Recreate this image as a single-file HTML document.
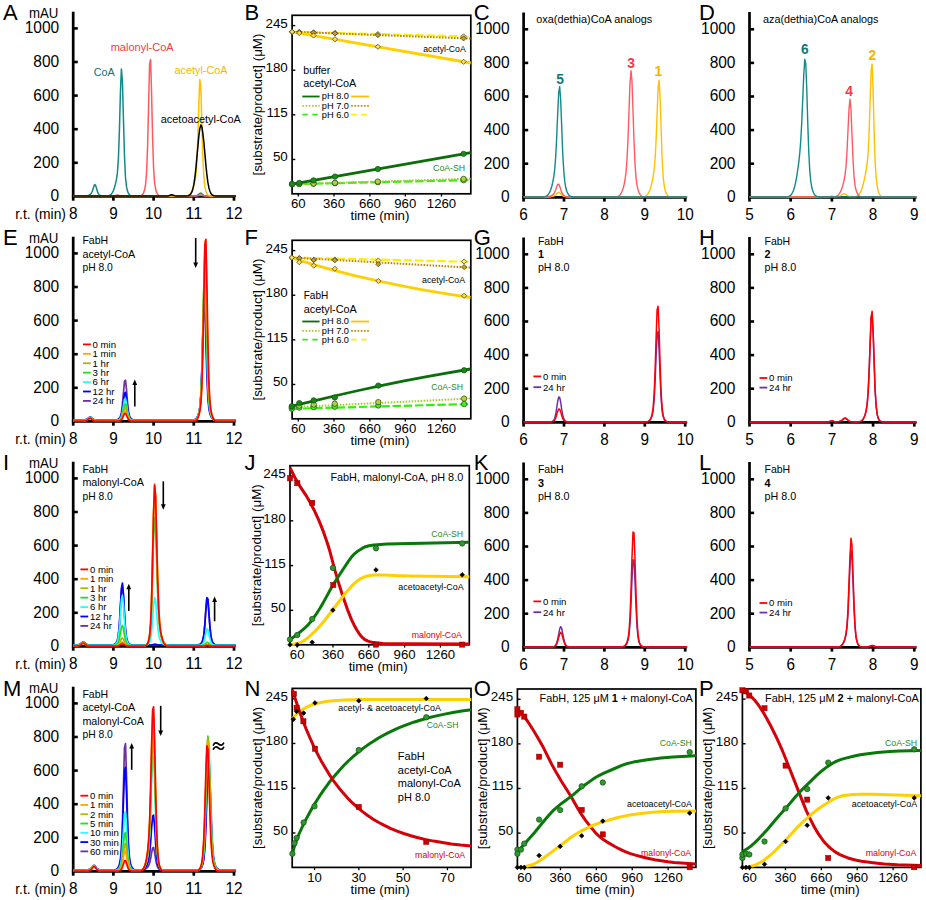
<!DOCTYPE html>
<html><head><meta charset="utf-8"><style>
html,body{margin:0;padding:0;background:#fff;overflow:hidden;width:926px;height:900px;}
svg{display:block;font-family:"Liberation Sans", sans-serif;}
</style></head><body>
<svg width="926" height="900" viewBox="0 0 926 900">
<rect width="926" height="900" fill="#fff"/>
<text x="3.00" y="19.60" font-size="22">A</text>
<line x1="73.20" y1="11.70" x2="73.20" y2="200.70" stroke="#000" stroke-width="2.7"/>
<line x1="73.20" y1="162.80" x2="77.80" y2="162.80" stroke="#000" stroke-width="2.6"/>
<line x1="73.20" y1="129.20" x2="77.80" y2="129.20" stroke="#000" stroke-width="2.6"/>
<line x1="73.20" y1="95.60" x2="77.80" y2="95.60" stroke="#000" stroke-width="2.6"/>
<line x1="73.20" y1="62.00" x2="77.80" y2="62.00" stroke="#000" stroke-width="2.6"/>
<line x1="73.20" y1="28.40" x2="77.80" y2="28.40" stroke="#000" stroke-width="2.6"/>
<line x1="71.90" y1="196.40" x2="235.20" y2="196.40" stroke="#000" stroke-width="2.8"/>
<line x1="113.40" y1="196.40" x2="113.40" y2="200.70" stroke="#000" stroke-width="2.7"/>
<line x1="153.60" y1="196.40" x2="153.60" y2="200.70" stroke="#000" stroke-width="2.7"/>
<line x1="193.80" y1="196.40" x2="193.80" y2="200.70" stroke="#000" stroke-width="2.7"/>
<line x1="234.00" y1="196.40" x2="234.00" y2="200.70" stroke="#000" stroke-width="2.7"/>
<text x="59.20" y="201.30" font-size="16.3" text-anchor="end" textLength="8.62" lengthAdjust="spacingAndGlyphs">0</text>
<text x="59.20" y="167.70" font-size="16.3" text-anchor="end" textLength="25.85" lengthAdjust="spacingAndGlyphs">200</text>
<text x="59.20" y="134.10" font-size="16.3" text-anchor="end" textLength="25.85" lengthAdjust="spacingAndGlyphs">400</text>
<text x="59.20" y="100.50" font-size="16.3" text-anchor="end" textLength="25.85" lengthAdjust="spacingAndGlyphs">600</text>
<text x="59.20" y="66.90" font-size="16.3" text-anchor="end" textLength="25.85" lengthAdjust="spacingAndGlyphs">800</text>
<text x="59.20" y="33.30" font-size="16.3" text-anchor="end" textLength="34.47" lengthAdjust="spacingAndGlyphs">1000</text>
<text x="73.20" y="219.10" font-size="16.0" text-anchor="middle" textLength="8.51" lengthAdjust="spacingAndGlyphs">8</text>
<text x="113.40" y="219.10" font-size="16.0" text-anchor="middle" textLength="8.51" lengthAdjust="spacingAndGlyphs">9</text>
<text x="153.60" y="219.10" font-size="16.0" text-anchor="middle" textLength="17.01" lengthAdjust="spacingAndGlyphs">10</text>
<text x="193.80" y="219.10" font-size="16.0" text-anchor="middle" textLength="17.01" lengthAdjust="spacingAndGlyphs">11</text>
<text x="234.00" y="219.10" font-size="16.0" text-anchor="middle" textLength="17.01" lengthAdjust="spacingAndGlyphs">12</text>
<text x="15.20" y="219.00" font-size="14.2" textLength="50.8" lengthAdjust="spacingAndGlyphs">r.t. (min)</text>
<text x="29.00" y="17.70" font-size="14" textLength="29.4" lengthAdjust="spacingAndGlyphs">mAU</text>
<polyline points="73.2,196.1 85.3,196.0 87.3,195.7 89.3,195.0 90.3,194.4 91.3,193.3 92.3,191.2 94.3,185.0 95.3,184.7 96.3,187.5 97.3,191.1 98.3,193.6 99.3,194.8 100.3,195.4 101.3,195.7 103.4,196.0 105.4,196.1 107.4,196.0 109.4,195.5 110.4,194.9 111.4,194.0 112.4,192.6 113.4,190.5 114.4,187.8 115.4,184.2 116.4,179.7 117.4,172.8 118.4,158.6 119.4,130.6 120.4,92.8 121.4,68.9 122.4,81.0 124.5,156.5 125.5,177.4 126.5,186.7 127.5,191.1 128.5,193.5 129.5,194.8 130.5,195.6 131.5,195.9 133.5,196.1 190.8,196.1 194.8,195.9 196.8,195.5 197.8,195.0 199.8,193.4 200.8,193.1 201.8,193.7 202.8,194.7 203.9,195.4 204.9,195.8 206.9,196.0 210.9,196.1 236.0,196.1" fill="none" stroke="#128a8a" stroke-width="1.5" stroke-linejoin="round"/>
<polyline points="73.2,196.1 110.4,196.1 113.4,195.9 117.4,195.1 118.4,195.3 120.4,195.9 122.4,196.1 138.5,196.1 140.5,195.8 141.5,195.4 142.5,194.5 143.6,192.8 144.6,189.8 145.6,184.3 146.6,172.3 147.6,145.9 149.6,63.8 150.6,59.4 151.6,94.0 152.6,138.5 153.6,168.4 154.6,182.7 155.6,189.0 156.6,192.3 157.6,194.2 158.6,195.3 159.6,195.8 160.6,196.0 162.6,196.1 193.8,196.1 197.8,195.8 200.8,195.1 201.8,195.2 204.9,196.0 206.9,196.1 236.0,196.1" fill="none" stroke="#ff5a5f" stroke-width="1.5" stroke-linejoin="round"/>
<polyline points="73.2,196.1 182.7,196.1 184.8,196.1 186.8,195.8 187.8,195.6 188.8,195.1 189.8,194.3 190.8,193.0 191.8,191.2 192.8,188.7 193.8,185.6 194.8,181.5 195.8,175.5 196.8,163.6 197.8,139.3 198.8,104.6 199.8,79.5 200.8,86.4 202.8,156.2 203.9,177.2 204.9,186.7 205.9,191.1 206.9,193.5 207.9,194.8 208.9,195.5 209.9,195.9 212.9,196.1 236.0,196.1" fill="none" stroke="#ffc000" stroke-width="1.5" stroke-linejoin="round"/>
<polyline points="73.2,196.1 162.6,196.1 167.7,195.9 168.7,195.7 170.7,195.0 171.7,194.8 172.7,195.0 174.7,195.8 175.7,195.9 178.7,196.1 182.7,196.1 185.8,196.0 187.8,195.8 188.8,195.5 189.8,194.9 190.8,193.9 191.8,192.2 192.8,189.3 193.8,184.7 194.8,178.1 195.8,169.2 198.8,136.4 199.8,128.6 200.8,125.0 201.8,126.6 202.8,132.9 203.9,142.6 205.9,165.1 206.9,174.8 207.9,182.4 208.9,187.7 209.9,191.2 210.9,193.4 211.9,194.6 212.9,195.3 213.9,195.7 215.9,196.0 219.9,196.1 236.0,196.1" fill="none" stroke="#000" stroke-width="1.5" stroke-linejoin="round"/>
<text x="93.80" y="75.50" font-size="11.2" fill="#0f7272" textLength="21" lengthAdjust="spacingAndGlyphs">CoA</text>
<text x="110.70" y="51.30" font-size="11.2" fill="#f23a48" textLength="63" lengthAdjust="spacingAndGlyphs">malonyl-CoA</text>
<text x="174.60" y="73.70" font-size="11.2" fill="#f5b800" textLength="53" lengthAdjust="spacingAndGlyphs">acetyl-CoA</text>
<text x="160.80" y="123.00" font-size="11.2" textLength="80" lengthAdjust="spacingAndGlyphs">acetoacetyl-CoA</text>
<text x="244.60" y="19.60" font-size="22">B</text>
<rect x="292.10" y="15.30" width="178.70" height="178.50" fill="none" stroke="#000" stroke-width="1.7"/>
<line x1="292.10" y1="25.60" x2="295.30" y2="25.60" stroke="#000" stroke-width="1.4"/>
<text x="287.80" y="27.60" font-size="13.4" text-anchor="end">245</text>
<line x1="292.10" y1="70.22" x2="295.30" y2="70.22" stroke="#000" stroke-width="1.4"/>
<text x="287.80" y="72.22" font-size="13.4" text-anchor="end">180</text>
<line x1="292.10" y1="114.85" x2="295.30" y2="114.85" stroke="#000" stroke-width="1.4"/>
<text x="287.80" y="116.85" font-size="13.4" text-anchor="end">115</text>
<line x1="292.10" y1="159.47" x2="295.30" y2="159.47" stroke="#000" stroke-width="1.4"/>
<text x="287.80" y="161.47" font-size="13.4" text-anchor="end">50</text>
<text x="298.30" y="208.00" font-size="13.2" text-anchor="middle">60</text>
<line x1="298.30" y1="193.80" x2="298.30" y2="196.60" stroke="#000" stroke-width="1.3"/>
<text x="334.00" y="208.00" font-size="13.2" text-anchor="middle">360</text>
<line x1="334.00" y1="193.80" x2="334.00" y2="196.60" stroke="#000" stroke-width="1.3"/>
<text x="369.90" y="208.00" font-size="13.2" text-anchor="middle">660</text>
<line x1="369.90" y1="193.80" x2="369.90" y2="196.60" stroke="#000" stroke-width="1.3"/>
<text x="405.30" y="208.00" font-size="13.2" text-anchor="middle">960</text>
<line x1="405.30" y1="193.80" x2="405.30" y2="196.60" stroke="#000" stroke-width="1.3"/>
<text x="441.50" y="208.00" font-size="13.2" text-anchor="middle">1260</text>
<line x1="441.50" y1="193.80" x2="441.50" y2="196.60" stroke="#000" stroke-width="1.3"/>
<text x="379.95" y="220.00" font-size="13.3" text-anchor="middle" textLength="59" lengthAdjust="spacingAndGlyphs">time (min)</text>
<text x="0" y="0" font-size="13.4" text-anchor="middle" textLength="142" lengthAdjust="spacingAndGlyphs" transform="translate(261.60,104.55) rotate(-90)">[substrate/product] (&#956;M)</text>
<polyline points="292.1,31.8 470.8,36.6" fill="none" stroke="#ffee00" stroke-width="2.2" stroke-linejoin="round" stroke-dasharray="8.4,2.8"/>
<polyline points="292.1,31.8 470.8,38.6" fill="none" stroke="#b8860b" stroke-width="2.0" stroke-linejoin="round" stroke-dasharray="1.6,1.4"/>
<polyline points="292.1,31.8 470.8,63.0" fill="none" stroke="#ffd000" stroke-width="2.8" stroke-linejoin="round"/>
<polyline points="292.1,184.2 470.8,180.1" fill="none" stroke="#33ee11" stroke-width="2.2" stroke-linejoin="round" stroke-dasharray="8.4,2.8"/>
<polyline points="292.1,184.2 470.8,178.7" fill="none" stroke="#a8c832" stroke-width="2.0" stroke-linejoin="round" stroke-dasharray="1.6,1.4"/>
<polyline points="292.1,184.2 470.8,152.6" fill="none" stroke="#0a6e0a" stroke-width="2.8" stroke-linejoin="round"/>
<path d="M292.10,29.18L294.70,31.78L292.10,34.38L289.50,31.78Z" fill="#ffee55" stroke="#333" stroke-width="0.7"/>
<path d="M292.10,29.18L294.70,31.78L292.10,34.38L289.50,31.78Z" fill="#c8a020" stroke="#333" stroke-width="0.7"/>
<path d="M292.10,29.18L294.70,31.78L292.10,34.38L289.50,31.78Z" fill="#ffe040" stroke="#333" stroke-width="0.7"/>
<path d="M299.25,29.37L301.85,31.97L299.25,34.57L296.65,31.97Z" fill="#ffee55" stroke="#333" stroke-width="0.7"/>
<path d="M299.25,29.45L301.85,32.05L299.25,34.65L296.65,32.05Z" fill="#c8a020" stroke="#333" stroke-width="0.7"/>
<path d="M299.25,30.43L301.85,33.03L299.25,35.63L296.65,33.03Z" fill="#ffe040" stroke="#333" stroke-width="0.7"/>
<path d="M313.54,29.75L316.14,32.35L313.54,34.95L310.94,32.35Z" fill="#ffee55" stroke="#333" stroke-width="0.7"/>
<path d="M313.54,30.00L316.14,32.60L313.54,35.20L310.94,32.60Z" fill="#c8a020" stroke="#333" stroke-width="0.7"/>
<path d="M313.54,32.93L316.14,35.53L313.54,38.13L310.94,35.53Z" fill="#ffe040" stroke="#333" stroke-width="0.7"/>
<path d="M334.98,30.33L337.58,32.93L334.98,35.53L332.38,32.93Z" fill="#ffee55" stroke="#333" stroke-width="0.7"/>
<path d="M334.98,30.82L337.58,33.42L334.98,36.02L332.38,33.42Z" fill="#c8a020" stroke="#333" stroke-width="0.7"/>
<path d="M334.98,36.67L337.58,39.27L334.98,41.87L332.38,39.27Z" fill="#ffe040" stroke="#333" stroke-width="0.7"/>
<path d="M377.85,31.48L380.45,34.08L377.85,36.68L375.25,34.08Z" fill="#ffee55" stroke="#333" stroke-width="0.7"/>
<path d="M377.85,32.47L380.45,35.07L377.85,37.67L375.25,35.07Z" fill="#c8a020" stroke="#333" stroke-width="0.7"/>
<path d="M377.85,44.17L380.45,46.77L377.85,49.37L375.25,46.77Z" fill="#ffe040" stroke="#333" stroke-width="0.7"/>
<path d="M463.60,33.79L466.20,36.39L463.60,38.99L461.00,36.39Z" fill="#ffee55" stroke="#333" stroke-width="0.7"/>
<path d="M463.60,35.77L466.20,38.37L463.60,40.97L461.00,38.37Z" fill="#c8a020" stroke="#333" stroke-width="0.7"/>
<path d="M463.60,59.16L466.20,61.76L463.60,64.36L461.00,61.76Z" fill="#ffe040" stroke="#333" stroke-width="0.7"/>
<circle cx="292.10" cy="184.19" r="2.7" fill="#88ee44" stroke="#1a4a1a" stroke-width="0.7"/>
<circle cx="292.10" cy="184.19" r="2.7" fill="#b8cc44" stroke="#1a4a1a" stroke-width="0.7"/>
<circle cx="292.10" cy="184.19" r="2.7" fill="#1a8a1a" stroke="#1a4a1a" stroke-width="0.7"/>
<circle cx="299.25" cy="184.02" r="2.7" fill="#88ee44" stroke="#1a4a1a" stroke-width="0.7"/>
<circle cx="299.25" cy="183.97" r="2.7" fill="#b8cc44" stroke="#1a4a1a" stroke-width="0.7"/>
<circle cx="299.25" cy="182.93" r="2.7" fill="#1a8a1a" stroke="#1a4a1a" stroke-width="0.7"/>
<circle cx="313.54" cy="183.69" r="2.7" fill="#88ee44" stroke="#1a4a1a" stroke-width="0.7"/>
<circle cx="313.54" cy="183.53" r="2.7" fill="#b8cc44" stroke="#1a4a1a" stroke-width="0.7"/>
<circle cx="313.54" cy="180.40" r="2.7" fill="#1a8a1a" stroke="#1a4a1a" stroke-width="0.7"/>
<circle cx="334.98" cy="183.20" r="2.7" fill="#88ee44" stroke="#1a4a1a" stroke-width="0.7"/>
<circle cx="334.98" cy="182.87" r="2.7" fill="#b8cc44" stroke="#1a4a1a" stroke-width="0.7"/>
<circle cx="334.98" cy="176.61" r="2.7" fill="#1a8a1a" stroke="#1a4a1a" stroke-width="0.7"/>
<circle cx="377.85" cy="182.21" r="2.7" fill="#88ee44" stroke="#1a4a1a" stroke-width="0.7"/>
<circle cx="377.85" cy="181.55" r="2.7" fill="#b8cc44" stroke="#1a4a1a" stroke-width="0.7"/>
<circle cx="377.85" cy="169.03" r="2.7" fill="#1a8a1a" stroke="#1a4a1a" stroke-width="0.7"/>
<circle cx="463.60" cy="180.23" r="2.7" fill="#88ee44" stroke="#1a4a1a" stroke-width="0.7"/>
<circle cx="463.60" cy="178.92" r="2.7" fill="#b8cc44" stroke="#1a4a1a" stroke-width="0.7"/>
<circle cx="463.60" cy="153.87" r="2.7" fill="#1a8a1a" stroke="#1a4a1a" stroke-width="0.7"/>
<text x="423.30" y="52.00" font-size="8.8" textLength="42.4" lengthAdjust="spacingAndGlyphs">acetyl-CoA</text>
<text x="433.10" y="170.50" font-size="8.8" fill="#1f8a1f" textLength="32" lengthAdjust="spacingAndGlyphs">CoA-SH</text>
<text x="303.20" y="73.80" font-size="10.2" textLength="27.2" lengthAdjust="spacingAndGlyphs">buffer</text>
<text x="303.20" y="87.20" font-size="10.2" textLength="53.1" lengthAdjust="spacingAndGlyphs">acetyl-CoA</text>
<line x1="302.30" y1="96.50" x2="319.60" y2="96.50" stroke="#0a6e0a" stroke-width="1.8"/>
<text x="321.80" y="99.30" font-size="8.8" textLength="27.2" lengthAdjust="spacingAndGlyphs">pH 8.0</text>
<line x1="351.20" y1="96.50" x2="369.10" y2="96.50" stroke="#ffc000" stroke-width="1.8"/>
<line x1="302.30" y1="105.80" x2="319.60" y2="105.80" stroke="#a8c832" stroke-width="1.8" stroke-dasharray="1.6,1.6"/>
<text x="321.80" y="108.60" font-size="8.8" textLength="27.2" lengthAdjust="spacingAndGlyphs">pH 7.0</text>
<line x1="351.20" y1="105.80" x2="369.10" y2="105.80" stroke="#b8860b" stroke-width="1.8" stroke-dasharray="1.6,1.6"/>
<line x1="302.30" y1="114.70" x2="319.60" y2="114.70" stroke="#33ee11" stroke-width="1.8" stroke-dasharray="5.5,4.5"/>
<text x="321.80" y="117.50" font-size="8.8" textLength="27.2" lengthAdjust="spacingAndGlyphs">pH 6.0</text>
<line x1="351.20" y1="114.70" x2="369.10" y2="114.70" stroke="#ffee00" stroke-width="1.8" stroke-dasharray="5.5,4.5"/>
<text x="473.70" y="19.60" font-size="22">C</text>
<line x1="523.60" y1="12.50" x2="523.60" y2="201.60" stroke="#000" stroke-width="2.7"/>
<line x1="523.60" y1="163.70" x2="528.20" y2="163.70" stroke="#000" stroke-width="2.6"/>
<line x1="523.60" y1="130.10" x2="528.20" y2="130.10" stroke="#000" stroke-width="2.6"/>
<line x1="523.60" y1="96.50" x2="528.20" y2="96.50" stroke="#000" stroke-width="2.6"/>
<line x1="523.60" y1="62.90" x2="528.20" y2="62.90" stroke="#000" stroke-width="2.6"/>
<line x1="523.60" y1="29.30" x2="528.20" y2="29.30" stroke="#000" stroke-width="2.6"/>
<line x1="522.30" y1="197.30" x2="686.50" y2="197.30" stroke="#000" stroke-width="2.8"/>
<line x1="564.00" y1="197.30" x2="564.00" y2="201.60" stroke="#000" stroke-width="2.7"/>
<line x1="604.40" y1="197.30" x2="604.40" y2="201.60" stroke="#000" stroke-width="2.7"/>
<line x1="644.80" y1="197.30" x2="644.80" y2="201.60" stroke="#000" stroke-width="2.7"/>
<line x1="685.20" y1="197.30" x2="685.20" y2="201.60" stroke="#000" stroke-width="2.7"/>
<text x="509.60" y="202.20" font-size="16.3" text-anchor="end" textLength="8.62" lengthAdjust="spacingAndGlyphs">0</text>
<text x="509.60" y="168.60" font-size="16.3" text-anchor="end" textLength="25.85" lengthAdjust="spacingAndGlyphs">200</text>
<text x="509.60" y="135.00" font-size="16.3" text-anchor="end" textLength="25.85" lengthAdjust="spacingAndGlyphs">400</text>
<text x="509.60" y="101.40" font-size="16.3" text-anchor="end" textLength="25.85" lengthAdjust="spacingAndGlyphs">600</text>
<text x="509.60" y="67.80" font-size="16.3" text-anchor="end" textLength="25.85" lengthAdjust="spacingAndGlyphs">800</text>
<text x="509.60" y="34.20" font-size="16.3" text-anchor="end" textLength="34.47" lengthAdjust="spacingAndGlyphs">1000</text>
<text x="523.60" y="220.00" font-size="16.0" text-anchor="middle" textLength="8.51" lengthAdjust="spacingAndGlyphs">6</text>
<text x="564.00" y="220.00" font-size="16.0" text-anchor="middle" textLength="8.51" lengthAdjust="spacingAndGlyphs">7</text>
<text x="604.40" y="220.00" font-size="16.0" text-anchor="middle" textLength="8.51" lengthAdjust="spacingAndGlyphs">8</text>
<text x="644.80" y="220.00" font-size="16.0" text-anchor="middle" textLength="8.51" lengthAdjust="spacingAndGlyphs">9</text>
<text x="685.20" y="220.00" font-size="16.0" text-anchor="middle" textLength="17.01" lengthAdjust="spacingAndGlyphs">10</text>
<polyline points="523.6,197.0 544.7,197.0 547.7,197.0 550.7,196.7 552.7,196.4 553.7,196.1 554.7,195.6 555.7,194.8 557.7,192.8 558.7,192.3 559.7,192.8 561.7,195.0 562.7,195.8 563.8,196.3 565.8,196.8 568.8,197.0 641.0,197.0 643.1,196.9 645.1,196.4 646.1,195.8 647.1,195.0 648.1,193.7 649.1,191.9 650.1,189.3 651.1,186.0 652.1,181.9 653.1,176.8 654.1,170.0 655.1,158.9 656.1,139.9 658.1,87.9 659.1,80.2 660.1,97.9 662.1,158.1 663.1,175.8 664.1,185.0 665.1,189.9 666.1,192.9 667.1,194.7 668.1,195.9 669.2,196.5 670.2,196.8 672.2,197.0 687.2,197.0" fill="none" stroke="#ffc000" stroke-width="1.4" stroke-linejoin="round"/>
<polyline points="523.6,197.0 544.7,197.0 547.7,196.8 550.7,196.0 552.7,195.0 553.7,194.0 554.7,192.3 555.7,189.7 556.7,186.7 557.7,184.4 558.7,184.1 559.7,186.2 561.7,192.4 562.7,194.3 563.8,195.4 564.8,196.1 566.8,196.7 568.8,196.9 572.8,197.0 613.9,197.0 615.9,196.9 618.0,196.3 619.0,195.8 620.0,194.9 621.0,193.5 622.0,191.5 623.0,188.7 624.0,185.0 625.0,180.0 626.0,172.4 627.0,159.6 628.0,138.7 630.0,83.1 631.0,70.8 632.0,81.4 634.0,140.4 635.0,163.6 636.0,177.6 637.0,185.2 638.0,189.7 639.0,192.5 640.0,194.4 641.0,195.6 642.0,196.3 643.1,196.7 645.1,197.0 687.2,197.0" fill="none" stroke="#ff5a5f" stroke-width="1.4" stroke-linejoin="round"/>
<polyline points="523.6,197.0 540.7,197.0 542.7,197.0 544.7,196.7 545.7,196.4 546.7,195.9 547.7,195.1 548.7,193.9 549.7,192.1 550.7,189.7 551.7,186.5 552.7,182.5 553.7,177.2 554.7,169.4 555.7,156.8 556.7,137.3 557.7,113.0 558.7,92.5 559.7,86.5 560.7,100.5 562.7,152.9 563.8,171.3 564.8,181.9 565.8,187.8 566.8,191.3 567.8,193.5 568.8,195.0 569.8,195.9 570.8,196.5 571.8,196.8 573.8,197.0 575.8,197.0 687.2,197.0" fill="none" stroke="#128a8a" stroke-width="1.4" stroke-linejoin="round"/>
<text x="536.30" y="23.30" font-size="10.3" textLength="116" lengthAdjust="spacingAndGlyphs">oxa(dethia)CoA analogs</text>
<text x="560.00" y="83.80" font-size="13.8" text-anchor="middle" font-weight="bold" fill="#107a7a">5</text>
<text x="631.00" y="67.60" font-size="13.8" text-anchor="middle" font-weight="bold" fill="#f23a48">3</text>
<text x="658.30" y="76.30" font-size="13.8" text-anchor="middle" font-weight="bold" fill="#f5b400">1</text>
<text x="699.00" y="19.60" font-size="22">D</text>
<line x1="749.50" y1="12.00" x2="749.50" y2="201.60" stroke="#000" stroke-width="2.7"/>
<line x1="749.50" y1="163.70" x2="754.10" y2="163.70" stroke="#000" stroke-width="2.6"/>
<line x1="749.50" y1="130.10" x2="754.10" y2="130.10" stroke="#000" stroke-width="2.6"/>
<line x1="749.50" y1="96.50" x2="754.10" y2="96.50" stroke="#000" stroke-width="2.6"/>
<line x1="749.50" y1="62.90" x2="754.10" y2="62.90" stroke="#000" stroke-width="2.6"/>
<line x1="749.50" y1="29.30" x2="754.10" y2="29.30" stroke="#000" stroke-width="2.6"/>
<line x1="748.20" y1="197.30" x2="916.50" y2="197.30" stroke="#000" stroke-width="2.8"/>
<line x1="790.70" y1="197.30" x2="790.70" y2="201.60" stroke="#000" stroke-width="2.7"/>
<line x1="831.90" y1="197.30" x2="831.90" y2="201.60" stroke="#000" stroke-width="2.7"/>
<line x1="873.10" y1="197.30" x2="873.10" y2="201.60" stroke="#000" stroke-width="2.7"/>
<line x1="914.30" y1="197.30" x2="914.30" y2="201.60" stroke="#000" stroke-width="2.7"/>
<text x="735.50" y="202.20" font-size="16.3" text-anchor="end" textLength="8.62" lengthAdjust="spacingAndGlyphs">0</text>
<text x="735.50" y="168.60" font-size="16.3" text-anchor="end" textLength="25.85" lengthAdjust="spacingAndGlyphs">200</text>
<text x="735.50" y="135.00" font-size="16.3" text-anchor="end" textLength="25.85" lengthAdjust="spacingAndGlyphs">400</text>
<text x="735.50" y="101.40" font-size="16.3" text-anchor="end" textLength="25.85" lengthAdjust="spacingAndGlyphs">600</text>
<text x="735.50" y="67.80" font-size="16.3" text-anchor="end" textLength="25.85" lengthAdjust="spacingAndGlyphs">800</text>
<text x="735.50" y="34.20" font-size="16.3" text-anchor="end" textLength="34.47" lengthAdjust="spacingAndGlyphs">1000</text>
<text x="749.50" y="220.00" font-size="16.0" text-anchor="middle" textLength="8.51" lengthAdjust="spacingAndGlyphs">5</text>
<text x="790.70" y="220.00" font-size="16.0" text-anchor="middle" textLength="8.51" lengthAdjust="spacingAndGlyphs">6</text>
<text x="831.90" y="220.00" font-size="16.0" text-anchor="middle" textLength="8.51" lengthAdjust="spacingAndGlyphs">7</text>
<text x="873.10" y="220.00" font-size="16.0" text-anchor="middle" textLength="8.51" lengthAdjust="spacingAndGlyphs">8</text>
<text x="914.30" y="220.00" font-size="16.0" text-anchor="middle" textLength="8.51" lengthAdjust="spacingAndGlyphs">9</text>
<polyline points="749.5,197.0 824.9,197.0 828.9,196.8 831.9,196.0 833.9,196.6 835.9,196.8 838.0,196.6 840.0,196.1 841.0,195.6 843.0,194.1 844.0,193.7 845.0,193.9 848.0,196.0 849.0,196.4 851.0,196.8 853.0,196.9 855.0,196.7 856.0,196.4 857.1,196.0 858.1,195.3 859.1,194.3 860.1,192.9 861.1,190.9 862.1,188.2 863.1,184.8 865.1,175.9 866.1,170.5 867.1,163.7 868.1,152.9 869.1,132.6 871.1,71.2 872.1,64.2 873.1,90.0 874.1,129.8 875.1,160.9 876.2,178.0 877.2,186.5 878.2,191.1 879.2,193.8 880.2,195.4 881.2,196.3 882.2,196.7 883.2,196.9 886.2,197.0 916.4,197.0" fill="none" stroke="#ffc000" stroke-width="1.4" stroke-linejoin="round"/>
<polyline points="749.5,197.0 830.9,197.0 832.9,197.0 834.9,196.7 835.9,196.5 837.0,196.0 838.0,195.3 839.0,194.2 840.0,192.7 841.0,190.6 842.0,187.9 843.0,184.6 844.0,180.5 845.0,175.1 846.0,166.5 847.0,151.8 849.0,108.7 850.0,99.1 851.0,109.8 853.0,159.7 854.0,176.3 855.0,185.3 856.0,190.1 857.1,192.9 858.1,194.7 859.1,195.8 860.1,196.4 861.1,196.8 863.1,197.0 916.4,197.0" fill="none" stroke="#ff5a5f" stroke-width="1.4" stroke-linejoin="round"/>
<polyline points="749.5,197.0 782.7,197.0 785.7,197.0 787.7,196.7 788.7,196.4 789.7,195.9 790.7,195.2 791.7,194.0 792.7,192.3 793.7,189.8 794.7,186.5 795.7,182.1 796.7,176.6 797.7,170.0 798.8,162.2 799.8,152.7 800.8,139.8 801.8,121.5 803.8,73.7 804.8,59.3 805.8,64.1 806.8,90.3 807.8,124.3 808.8,152.8 809.8,171.1 810.8,181.4 811.8,187.3 812.8,190.9 813.8,193.3 814.8,194.9 815.8,195.9 816.8,196.4 818.9,196.9 820.9,197.0 916.4,197.0" fill="none" stroke="#128a8a" stroke-width="1.4" stroke-linejoin="round"/>
<text x="763.00" y="23.30" font-size="10.3" textLength="115.5" lengthAdjust="spacingAndGlyphs">aza(dethia)CoA analogs</text>
<text x="804.80" y="53.80" font-size="13.8" text-anchor="middle" font-weight="bold" fill="#107a7a">6</text>
<text x="849.00" y="96.30" font-size="13.8" text-anchor="middle" font-weight="bold" fill="#f23a48">4</text>
<text x="872.30" y="60.00" font-size="13.8" text-anchor="middle" font-weight="bold" fill="#f5b400">2</text>
<text x="3.00" y="245.00" font-size="22">E</text>
<line x1="73.20" y1="236.70" x2="73.20" y2="425.70" stroke="#000" stroke-width="2.7"/>
<line x1="73.20" y1="387.80" x2="77.80" y2="387.80" stroke="#000" stroke-width="2.6"/>
<line x1="73.20" y1="354.20" x2="77.80" y2="354.20" stroke="#000" stroke-width="2.6"/>
<line x1="73.20" y1="320.60" x2="77.80" y2="320.60" stroke="#000" stroke-width="2.6"/>
<line x1="73.20" y1="287.00" x2="77.80" y2="287.00" stroke="#000" stroke-width="2.6"/>
<line x1="73.20" y1="253.40" x2="77.80" y2="253.40" stroke="#000" stroke-width="2.6"/>
<line x1="71.90" y1="421.40" x2="235.20" y2="421.40" stroke="#000" stroke-width="2.8"/>
<line x1="113.40" y1="421.40" x2="113.40" y2="425.70" stroke="#000" stroke-width="2.7"/>
<line x1="153.60" y1="421.40" x2="153.60" y2="425.70" stroke="#000" stroke-width="2.7"/>
<line x1="193.80" y1="421.40" x2="193.80" y2="425.70" stroke="#000" stroke-width="2.7"/>
<line x1="234.00" y1="421.40" x2="234.00" y2="425.70" stroke="#000" stroke-width="2.7"/>
<text x="59.20" y="426.30" font-size="16.3" text-anchor="end" textLength="8.62" lengthAdjust="spacingAndGlyphs">0</text>
<text x="59.20" y="392.70" font-size="16.3" text-anchor="end" textLength="25.85" lengthAdjust="spacingAndGlyphs">200</text>
<text x="59.20" y="359.10" font-size="16.3" text-anchor="end" textLength="25.85" lengthAdjust="spacingAndGlyphs">400</text>
<text x="59.20" y="325.50" font-size="16.3" text-anchor="end" textLength="25.85" lengthAdjust="spacingAndGlyphs">600</text>
<text x="59.20" y="291.90" font-size="16.3" text-anchor="end" textLength="25.85" lengthAdjust="spacingAndGlyphs">800</text>
<text x="59.20" y="258.30" font-size="16.3" text-anchor="end" textLength="34.47" lengthAdjust="spacingAndGlyphs">1000</text>
<text x="73.20" y="444.10" font-size="16.0" text-anchor="middle" textLength="8.51" lengthAdjust="spacingAndGlyphs">8</text>
<text x="113.40" y="444.10" font-size="16.0" text-anchor="middle" textLength="8.51" lengthAdjust="spacingAndGlyphs">9</text>
<text x="153.60" y="444.10" font-size="16.0" text-anchor="middle" textLength="17.01" lengthAdjust="spacingAndGlyphs">10</text>
<text x="193.80" y="444.10" font-size="16.0" text-anchor="middle" textLength="17.01" lengthAdjust="spacingAndGlyphs">11</text>
<text x="234.00" y="444.10" font-size="16.0" text-anchor="middle" textLength="17.01" lengthAdjust="spacingAndGlyphs">12</text>
<text x="15.20" y="444.00" font-size="14.2" textLength="50.8" lengthAdjust="spacingAndGlyphs">r.t. (min)</text>
<text x="29.00" y="242.70" font-size="14" textLength="29.4" lengthAdjust="spacingAndGlyphs">mAU</text>
<polyline points="73.2,420.0 81.2,420.0 85.3,419.6 86.3,419.4 87.3,418.9 89.3,417.3 90.3,417.0 91.3,417.6 92.3,418.5 93.3,419.3 94.3,419.6 96.3,419.9 100.3,420.0 114.4,420.0 116.4,419.8 117.4,419.5 118.4,419.0 119.4,418.1 120.4,416.3 121.4,412.4 122.4,404.3 124.5,381.4 125.5,380.2 126.5,389.5 127.5,402.1 128.5,411.2 129.5,415.8 130.5,417.9 131.5,418.9 132.5,419.5 134.5,419.9 137.5,420.0 190.8,420.0 193.8,419.8 194.8,419.5 195.8,418.9 196.8,417.8 197.8,416.0 198.8,413.0 199.8,407.7 200.8,395.8 201.8,371.0 202.8,334.0 203.9,305.2 204.9,308.9 206.9,377.2 207.9,399.1 208.9,409.1 209.9,413.7 210.9,416.4 211.9,418.1 212.9,419.1 213.9,419.6 214.9,419.8 217.9,420.0 236.0,420.0" fill="none" stroke="#7030a0" stroke-width="1.7" stroke-linejoin="round"/>
<polyline points="73.2,420.2 81.2,420.2 85.3,419.8 86.3,419.6 87.3,419.1 89.3,417.5 90.3,417.2 91.3,417.8 92.3,418.7 93.3,419.5 94.3,419.8 96.3,420.1 100.3,420.2 114.4,420.2 116.4,420.1 118.4,419.5 119.4,418.9 120.4,417.7 121.4,414.9 122.4,409.2 124.5,393.2 125.5,392.3 126.5,398.9 127.5,407.7 128.5,414.0 129.5,417.3 130.5,418.7 131.5,419.4 132.5,419.8 134.5,420.1 137.5,420.2 190.8,420.2 193.8,420.0 194.8,419.7 195.8,419.1 196.8,418.0 197.8,416.2 198.8,413.2 199.8,407.9 200.8,396.6 201.8,372.1 203.9,295.1 204.9,291.0 205.9,323.4 206.9,365.1 207.9,393.0 208.9,406.3 209.9,412.3 210.9,415.7 211.9,417.7 212.9,419.0 213.9,419.6 214.9,420.0 217.9,420.2 236.0,420.2" fill="none" stroke="#0000ff" stroke-width="1.7" stroke-linejoin="round"/>
<polyline points="73.2,420.4 81.2,420.4 85.3,420.0 86.3,419.8 87.3,419.3 89.3,417.7 90.3,417.4 91.3,418.0 92.3,418.9 93.3,419.7 94.3,420.0 96.3,420.3 100.3,420.4 114.4,420.4 116.4,420.3 118.4,419.9 119.4,419.4 120.4,418.4 121.4,416.3 122.4,411.9 124.5,399.4 125.5,398.8 126.5,403.9 127.5,410.7 128.5,415.6 129.5,418.1 130.5,419.3 131.5,419.8 132.5,420.1 134.5,420.4 137.5,420.4 191.8,420.4 193.8,420.2 194.8,420.0 195.8,419.4 196.8,418.3 197.8,416.4 198.8,413.4 199.8,408.2 200.8,397.5 201.8,373.8 203.9,287.3 204.9,273.6 205.9,303.4 206.9,350.5 207.9,385.4 208.9,402.9 209.9,410.6 210.9,414.8 211.9,417.3 212.9,418.8 213.9,419.7 214.9,420.1 215.9,420.3 217.9,420.4 236.0,420.4" fill="none" stroke="#22ffff" stroke-width="1.7" stroke-linejoin="round"/>
<polyline points="73.2,420.6 81.2,420.6 85.3,420.2 86.3,420.0 87.3,419.5 89.3,417.9 90.3,417.6 91.3,418.2 92.3,419.1 93.3,419.9 94.3,420.2 96.3,420.5 100.3,420.6 114.4,420.6 116.4,420.5 118.4,420.2 119.4,419.8 120.4,419.1 121.4,417.5 122.4,414.1 124.5,404.6 125.5,404.1 126.5,408.0 127.5,413.2 128.5,416.9 129.5,418.9 130.5,419.7 131.5,420.2 132.5,420.4 134.5,420.6 137.5,420.6 191.8,420.6 193.8,420.5 194.8,420.2 195.8,419.7 196.8,418.6 197.8,416.7 198.8,413.7 199.8,408.7 200.8,398.8 201.8,376.5 202.8,334.4 203.9,283.6 204.9,259.3 205.9,283.6 206.9,334.4 207.9,376.5 208.9,398.8 209.9,408.7 210.9,413.7 211.9,416.7 212.9,418.6 213.9,419.7 214.9,420.2 215.9,420.5 217.9,420.6 236.0,420.6" fill="none" stroke="#22dd22" stroke-width="1.7" stroke-linejoin="round"/>
<polyline points="73.2,420.8 81.2,420.8 85.3,420.4 86.3,420.2 87.3,419.7 89.3,418.1 90.3,417.8 91.3,418.4 92.3,419.4 93.3,420.1 94.3,420.4 96.3,420.7 100.3,420.8 114.4,420.8 116.4,420.8 118.4,420.5 119.4,420.2 120.4,419.6 121.4,418.3 122.4,415.7 124.5,408.1 125.5,407.7 126.5,410.8 127.5,414.9 128.5,417.9 129.5,419.4 130.5,420.1 132.5,420.6 137.5,420.8 191.8,420.8 193.8,420.7 194.8,420.4 195.8,419.9 196.8,418.9 197.8,417.1 198.8,414.2 199.8,409.4 200.8,400.3 201.8,379.9 202.8,339.0 203.9,283.8 204.9,248.9 205.9,265.0 207.9,366.2 208.9,394.0 209.9,406.5 210.9,412.6 211.9,416.1 212.9,418.3 213.9,419.6 214.9,420.3 215.9,420.6 217.9,420.8 236.0,420.8" fill="none" stroke="#b4b400" stroke-width="1.7" stroke-linejoin="round"/>
<polyline points="73.2,421.0 81.2,421.0 85.3,420.6 86.3,420.4 87.3,419.9 89.3,418.3 90.3,418.0 91.3,418.6 92.3,419.6 93.3,420.3 94.3,420.6 95.3,420.8 99.3,421.0 112.4,421.0 116.4,421.0 118.4,420.8 119.4,420.6 120.4,420.1 121.4,419.1 122.4,417.1 124.5,411.5 125.5,411.2 126.5,413.5 127.5,416.6 128.5,418.8 129.5,420.0 130.5,420.5 132.5,420.9 137.5,421.0 191.8,421.0 193.8,420.9 194.8,420.7 195.8,420.2 196.8,419.3 197.8,417.6 198.8,414.7 199.8,410.1 200.8,401.7 201.8,383.2 202.8,344.2 203.9,286.3 204.9,241.0 205.9,246.8 207.9,354.0 208.9,388.2 209.9,403.9 210.9,411.2 211.9,415.4 212.9,418.0 213.9,419.5 214.9,420.3 215.9,420.7 216.9,420.9 218.9,421.0 236.0,421.0" fill="none" stroke="#ffa500" stroke-width="1.7" stroke-linejoin="round"/>
<polyline points="73.2,421.2 81.2,421.2 85.3,420.8 86.3,420.6 87.3,420.1 89.3,418.5 90.3,418.2 91.3,418.8 92.3,419.8 93.3,420.5 94.3,420.8 95.3,421.0 98.3,421.2 102.3,421.2 115.4,421.2 118.4,421.0 119.4,420.9 120.4,420.5 121.4,419.7 122.4,418.1 124.5,413.6 125.5,413.4 126.5,415.2 127.5,417.7 128.5,419.5 129.5,420.4 130.5,420.8 132.5,421.1 137.5,421.2 191.8,421.2 193.8,421.1 194.8,420.9 195.8,420.5 196.8,419.7 197.8,418.2 198.8,415.5 199.8,411.3 200.8,403.9 201.8,388.0 202.8,353.4 204.9,245.1 205.9,239.3 206.9,285.0 207.9,343.6 208.9,382.9 209.9,401.7 210.9,410.1 211.9,414.8 212.9,417.7 213.9,419.5 214.9,420.4 215.9,420.9 216.9,421.1 218.9,421.2 236.0,421.2" fill="none" stroke="#ff0000" stroke-width="1.7" stroke-linejoin="round"/>
<text x="82.40" y="244.40" font-size="10.8" textLength="25.8" lengthAdjust="spacingAndGlyphs">FabH</text>
<text x="82.40" y="257.80" font-size="10.8" textLength="52.9" lengthAdjust="spacingAndGlyphs">acetyl-CoA</text>
<text x="82.40" y="271.10" font-size="10.8" textLength="30.4" lengthAdjust="spacingAndGlyphs">pH 8.0</text>
<line x1="83.00" y1="344.40" x2="90.80" y2="344.40" stroke="#ff0000" stroke-width="1.8"/>
<text x="92.60" y="347.80" font-size="9.6">0 min</text>
<line x1="83.00" y1="353.82" x2="90.80" y2="353.82" stroke="#ffa500" stroke-width="1.8"/>
<text x="92.60" y="357.22" font-size="9.6">1 min</text>
<line x1="83.00" y1="363.24" x2="90.80" y2="363.24" stroke="#b4b400" stroke-width="1.8"/>
<text x="92.60" y="366.64" font-size="9.6">1 hr</text>
<line x1="83.00" y1="372.66" x2="90.80" y2="372.66" stroke="#22dd22" stroke-width="1.8"/>
<text x="92.60" y="376.06" font-size="9.6">3 hr</text>
<line x1="83.00" y1="382.08" x2="90.80" y2="382.08" stroke="#22ffff" stroke-width="1.8"/>
<text x="92.60" y="385.48" font-size="9.6">6 hr</text>
<line x1="83.00" y1="391.50" x2="90.80" y2="391.50" stroke="#0000ff" stroke-width="1.8"/>
<text x="92.60" y="394.90" font-size="9.6">12 hr</text>
<line x1="83.00" y1="400.92" x2="90.80" y2="400.92" stroke="#7030a0" stroke-width="1.8"/>
<text x="92.60" y="404.32" font-size="9.6">24 hr</text>
<line x1="195.70" y1="238.00" x2="195.70" y2="264.50" stroke="#000" stroke-width="1.6"/>
<path d="M193.30,262.50L198.10,262.50L195.70,268.00Z" fill="#000"/>
<line x1="134.80" y1="406.60" x2="134.80" y2="382.90" stroke="#000" stroke-width="1.6"/>
<path d="M132.40,384.90L137.20,384.90L134.80,379.40Z" fill="#000"/>
<text x="244.60" y="245.00" font-size="22">F</text>
<rect x="292.10" y="240.30" width="178.70" height="178.50" fill="none" stroke="#000" stroke-width="1.7"/>
<line x1="292.10" y1="250.60" x2="295.30" y2="250.60" stroke="#000" stroke-width="1.4"/>
<text x="287.80" y="252.60" font-size="13.4" text-anchor="end">245</text>
<line x1="292.10" y1="295.22" x2="295.30" y2="295.22" stroke="#000" stroke-width="1.4"/>
<text x="287.80" y="297.22" font-size="13.4" text-anchor="end">180</text>
<line x1="292.10" y1="339.85" x2="295.30" y2="339.85" stroke="#000" stroke-width="1.4"/>
<text x="287.80" y="341.85" font-size="13.4" text-anchor="end">115</text>
<line x1="292.10" y1="384.47" x2="295.30" y2="384.47" stroke="#000" stroke-width="1.4"/>
<text x="287.80" y="386.47" font-size="13.4" text-anchor="end">50</text>
<text x="298.30" y="433.00" font-size="13.2" text-anchor="middle">60</text>
<line x1="298.30" y1="418.80" x2="298.30" y2="421.60" stroke="#000" stroke-width="1.3"/>
<text x="334.00" y="433.00" font-size="13.2" text-anchor="middle">360</text>
<line x1="334.00" y1="418.80" x2="334.00" y2="421.60" stroke="#000" stroke-width="1.3"/>
<text x="369.90" y="433.00" font-size="13.2" text-anchor="middle">660</text>
<line x1="369.90" y1="418.80" x2="369.90" y2="421.60" stroke="#000" stroke-width="1.3"/>
<text x="405.30" y="433.00" font-size="13.2" text-anchor="middle">960</text>
<line x1="405.30" y1="418.80" x2="405.30" y2="421.60" stroke="#000" stroke-width="1.3"/>
<text x="441.50" y="433.00" font-size="13.2" text-anchor="middle">1260</text>
<line x1="441.50" y1="418.80" x2="441.50" y2="421.60" stroke="#000" stroke-width="1.3"/>
<text x="379.95" y="445.00" font-size="13.3" text-anchor="middle" textLength="59" lengthAdjust="spacingAndGlyphs">time (min)</text>
<text x="0" y="0" font-size="13.4" text-anchor="middle" textLength="142" lengthAdjust="spacingAndGlyphs" transform="translate(261.60,329.55) rotate(-90)">[substrate/product] (&#956;M)</text>
<polyline points="291.8,257.6 470.8,261.8" fill="none" stroke="#ffee00" stroke-width="2.2" stroke-linejoin="round" stroke-dasharray="8.4,2.8"/>
<polyline points="291.8,257.6 470.8,267.6" fill="none" stroke="#b8860b" stroke-width="2.0" stroke-linejoin="round" stroke-dasharray="1.6,1.4"/>
<polyline points="292.0,258.0 312.0,264.1 332.5,269.9 353.5,275.3 375.5,280.4 398.0,285.1 421.5,289.6 445.5,293.7 470.5,297.5" fill="none" stroke="#ffd000" stroke-width="2.8" stroke-linejoin="round"/>
<polyline points="291.8,408.8 470.8,404.0" fill="none" stroke="#33ee11" stroke-width="2.2" stroke-linejoin="round" stroke-dasharray="8.4,2.8"/>
<polyline points="291.8,407.2 470.8,398.5" fill="none" stroke="#a8c832" stroke-width="2.0" stroke-linejoin="round" stroke-dasharray="1.6,1.4"/>
<polyline points="292.0,406.2 314.0,400.8 336.5,395.5 358.5,390.5 381.0,385.7 403.0,381.2 425.5,376.9 448.0,372.9 470.5,369.0" fill="none" stroke="#0a6e0a" stroke-width="2.8" stroke-linejoin="round"/>
<path d="M291.80,255.00L294.40,257.60L291.80,260.20L289.20,257.60Z" fill="#ffee55" stroke="#333" stroke-width="0.7"/>
<path d="M299.30,255.60L301.90,258.20L299.30,260.80L296.70,258.20Z" fill="#ffee55" stroke="#333" stroke-width="0.7"/>
<path d="M313.70,257.30L316.30,259.90L313.70,262.50L311.10,259.90Z" fill="#ffee55" stroke="#333" stroke-width="0.7"/>
<path d="M334.80,256.90L337.40,259.50L334.80,262.10L332.20,259.50Z" fill="#ffee55" stroke="#333" stroke-width="0.7"/>
<path d="M378.30,257.90L380.90,260.50L378.30,263.10L375.70,260.50Z" fill="#ffee55" stroke="#333" stroke-width="0.7"/>
<path d="M464.10,258.90L466.70,261.50L464.10,264.10L461.50,261.50Z" fill="#ffee55" stroke="#333" stroke-width="0.7"/>
<path d="M291.80,255.00L294.40,257.60L291.80,260.20L289.20,257.60Z" fill="#c8a020" stroke="#333" stroke-width="0.7"/>
<path d="M299.30,255.70L301.90,258.30L299.30,260.90L296.70,258.30Z" fill="#c8a020" stroke="#333" stroke-width="0.7"/>
<path d="M313.70,257.30L316.30,259.90L313.70,262.50L311.10,259.90Z" fill="#c8a020" stroke="#333" stroke-width="0.7"/>
<path d="M334.80,257.70L337.40,260.30L334.80,262.90L332.20,260.30Z" fill="#c8a020" stroke="#333" stroke-width="0.7"/>
<path d="M378.30,261.60L380.90,264.20L378.30,266.80L375.70,264.20Z" fill="#c8a020" stroke="#333" stroke-width="0.7"/>
<path d="M464.10,264.50L466.70,267.10L464.10,269.70L461.50,267.10Z" fill="#c8a020" stroke="#333" stroke-width="0.7"/>
<path d="M291.80,255.00L294.40,257.60L291.80,260.20L289.20,257.60Z" fill="#ffe040" stroke="#333" stroke-width="0.7"/>
<path d="M299.30,259.60L301.90,262.20L299.30,264.80L296.70,262.20Z" fill="#ffe040" stroke="#333" stroke-width="0.7"/>
<path d="M313.70,263.00L316.30,265.60L313.70,268.20L311.10,265.60Z" fill="#ffe040" stroke="#333" stroke-width="0.7"/>
<path d="M334.80,266.10L337.40,268.70L334.80,271.30L332.20,268.70Z" fill="#ffe040" stroke="#333" stroke-width="0.7"/>
<path d="M378.30,278.40L380.90,281.00L378.30,283.60L375.70,281.00Z" fill="#ffe040" stroke="#333" stroke-width="0.7"/>
<path d="M464.10,293.20L466.70,295.80L464.10,298.40L461.50,295.80Z" fill="#ffe040" stroke="#333" stroke-width="0.7"/>
<circle cx="291.80" cy="408.80" r="2.7" fill="#44ee22" stroke="#1a4a1a" stroke-width="0.7"/>
<circle cx="299.30" cy="407.60" r="2.7" fill="#44ee22" stroke="#1a4a1a" stroke-width="0.7"/>
<circle cx="313.70" cy="407.20" r="2.7" fill="#44ee22" stroke="#1a4a1a" stroke-width="0.7"/>
<circle cx="334.80" cy="406.80" r="2.7" fill="#44ee22" stroke="#1a4a1a" stroke-width="0.7"/>
<circle cx="378.30" cy="405.50" r="2.7" fill="#44ee22" stroke="#1a4a1a" stroke-width="0.7"/>
<circle cx="464.10" cy="404.10" r="2.7" fill="#44ee22" stroke="#1a4a1a" stroke-width="0.7"/>
<circle cx="291.80" cy="407.20" r="2.7" fill="#b8cc44" stroke="#1a4a1a" stroke-width="0.7"/>
<circle cx="299.30" cy="405.60" r="2.7" fill="#b8cc44" stroke="#1a4a1a" stroke-width="0.7"/>
<circle cx="313.70" cy="404.50" r="2.7" fill="#b8cc44" stroke="#1a4a1a" stroke-width="0.7"/>
<circle cx="334.80" cy="403.70" r="2.7" fill="#b8cc44" stroke="#1a4a1a" stroke-width="0.7"/>
<circle cx="378.30" cy="402.10" r="2.7" fill="#b8cc44" stroke="#1a4a1a" stroke-width="0.7"/>
<circle cx="464.10" cy="398.60" r="2.7" fill="#b8cc44" stroke="#1a4a1a" stroke-width="0.7"/>
<circle cx="291.80" cy="406.30" r="2.7" fill="#128a12" stroke="#1a4a1a" stroke-width="0.7"/>
<circle cx="299.30" cy="403.10" r="2.7" fill="#128a12" stroke="#1a4a1a" stroke-width="0.7"/>
<circle cx="313.70" cy="400.40" r="2.7" fill="#128a12" stroke="#1a4a1a" stroke-width="0.7"/>
<circle cx="334.80" cy="397.50" r="2.7" fill="#128a12" stroke="#1a4a1a" stroke-width="0.7"/>
<circle cx="378.30" cy="385.60" r="2.7" fill="#128a12" stroke="#1a4a1a" stroke-width="0.7"/>
<circle cx="464.10" cy="370.30" r="2.7" fill="#128a12" stroke="#1a4a1a" stroke-width="0.7"/>
<text x="422.00" y="282.70" font-size="8.8" textLength="43.1" lengthAdjust="spacingAndGlyphs">acetyl-CoA</text>
<text x="431.30" y="389.70" font-size="8.8" fill="#1f8a1f" textLength="31.6" lengthAdjust="spacingAndGlyphs">CoA-SH</text>
<text x="303.70" y="299.00" font-size="10.2" textLength="24.6" lengthAdjust="spacingAndGlyphs">FabH</text>
<text x="303.70" y="312.50" font-size="10.2" textLength="53.1" lengthAdjust="spacingAndGlyphs">acetyl-CoA</text>
<line x1="302.30" y1="321.50" x2="319.60" y2="321.50" stroke="#0a6e0a" stroke-width="1.8"/>
<text x="321.80" y="324.30" font-size="8.8" textLength="27.2" lengthAdjust="spacingAndGlyphs">pH 8.0</text>
<line x1="351.20" y1="321.50" x2="369.10" y2="321.50" stroke="#ffc000" stroke-width="1.8"/>
<line x1="302.30" y1="330.80" x2="319.60" y2="330.80" stroke="#a8c832" stroke-width="1.8" stroke-dasharray="1.6,1.6"/>
<text x="321.80" y="333.60" font-size="8.8" textLength="27.2" lengthAdjust="spacingAndGlyphs">pH 7.0</text>
<line x1="351.20" y1="330.80" x2="369.10" y2="330.80" stroke="#b8860b" stroke-width="1.8" stroke-dasharray="1.6,1.6"/>
<line x1="302.30" y1="339.70" x2="319.60" y2="339.70" stroke="#33ee11" stroke-width="1.8" stroke-dasharray="5.5,4.5"/>
<text x="321.80" y="342.50" font-size="8.8" textLength="27.2" lengthAdjust="spacingAndGlyphs">pH 6.0</text>
<line x1="351.20" y1="339.70" x2="369.10" y2="339.70" stroke="#ffee00" stroke-width="1.8" stroke-dasharray="5.5,4.5"/>
<text x="473.70" y="245.00" font-size="22">G</text>
<line x1="523.60" y1="237.50" x2="523.60" y2="426.60" stroke="#000" stroke-width="2.7"/>
<line x1="523.60" y1="388.70" x2="528.20" y2="388.70" stroke="#000" stroke-width="2.6"/>
<line x1="523.60" y1="355.10" x2="528.20" y2="355.10" stroke="#000" stroke-width="2.6"/>
<line x1="523.60" y1="321.50" x2="528.20" y2="321.50" stroke="#000" stroke-width="2.6"/>
<line x1="523.60" y1="287.90" x2="528.20" y2="287.90" stroke="#000" stroke-width="2.6"/>
<line x1="523.60" y1="254.30" x2="528.20" y2="254.30" stroke="#000" stroke-width="2.6"/>
<line x1="522.30" y1="422.30" x2="686.50" y2="422.30" stroke="#000" stroke-width="2.8"/>
<line x1="564.00" y1="422.30" x2="564.00" y2="426.60" stroke="#000" stroke-width="2.7"/>
<line x1="604.40" y1="422.30" x2="604.40" y2="426.60" stroke="#000" stroke-width="2.7"/>
<line x1="644.80" y1="422.30" x2="644.80" y2="426.60" stroke="#000" stroke-width="2.7"/>
<line x1="685.20" y1="422.30" x2="685.20" y2="426.60" stroke="#000" stroke-width="2.7"/>
<text x="509.60" y="427.20" font-size="16.3" text-anchor="end" textLength="8.62" lengthAdjust="spacingAndGlyphs">0</text>
<text x="509.60" y="393.60" font-size="16.3" text-anchor="end" textLength="25.85" lengthAdjust="spacingAndGlyphs">200</text>
<text x="509.60" y="360.00" font-size="16.3" text-anchor="end" textLength="25.85" lengthAdjust="spacingAndGlyphs">400</text>
<text x="509.60" y="326.40" font-size="16.3" text-anchor="end" textLength="25.85" lengthAdjust="spacingAndGlyphs">600</text>
<text x="509.60" y="292.80" font-size="16.3" text-anchor="end" textLength="25.85" lengthAdjust="spacingAndGlyphs">800</text>
<text x="509.60" y="259.20" font-size="16.3" text-anchor="end" textLength="34.47" lengthAdjust="spacingAndGlyphs">1000</text>
<text x="523.60" y="445.00" font-size="16.0" text-anchor="middle" textLength="8.51" lengthAdjust="spacingAndGlyphs">6</text>
<text x="564.00" y="445.00" font-size="16.0" text-anchor="middle" textLength="8.51" lengthAdjust="spacingAndGlyphs">7</text>
<text x="604.40" y="445.00" font-size="16.0" text-anchor="middle" textLength="8.51" lengthAdjust="spacingAndGlyphs">8</text>
<text x="644.80" y="445.00" font-size="16.0" text-anchor="middle" textLength="8.51" lengthAdjust="spacingAndGlyphs">9</text>
<text x="685.20" y="445.00" font-size="16.0" text-anchor="middle" textLength="17.01" lengthAdjust="spacingAndGlyphs">10</text>
<polyline points="523.6,422.0 548.7,422.0 550.7,421.9 551.7,421.7 552.7,421.2 553.7,420.3 554.7,418.2 555.7,414.3 557.7,401.5 558.7,397.0 559.7,397.4 560.7,402.5 561.7,409.4 562.7,415.1 563.8,418.7 564.8,420.5 565.8,421.3 566.8,421.7 568.8,422.0 571.8,422.0 643.1,422.0 645.1,422.0 647.1,421.8 648.1,421.5 649.1,421.0 650.1,420.0 651.1,418.5 652.1,415.9 653.1,411.0 654.1,400.8 655.1,381.9 656.1,355.8 657.1,334.1 658.1,331.4 659.1,349.9 660.1,376.8 661.1,398.4 662.1,410.8 663.1,416.6 664.1,419.3 665.1,420.7 666.1,421.4 667.1,421.8 670.2,422.0 687.2,422.0" fill="none" stroke="#7030a0" stroke-width="1.5" stroke-linejoin="round"/>
<polyline points="523.6,422.0 548.7,422.0 550.7,422.0 552.7,421.6 553.7,421.1 554.7,420.1 555.7,418.0 557.7,411.4 558.7,409.0 559.7,409.3 560.7,411.9 561.7,415.5 562.7,418.4 563.8,420.3 564.8,421.2 565.8,421.7 566.8,421.9 571.8,422.0 644.1,422.0 646.1,421.9 647.1,421.7 648.1,421.4 649.1,420.7 650.1,419.5 651.1,417.5 652.1,414.2 653.1,407.9 654.1,394.9 655.1,370.7 656.1,337.5 657.1,309.8 658.1,306.3 659.1,330.0 660.1,364.3 661.1,391.9 662.1,407.6 663.1,415.1 664.1,418.5 665.1,420.3 666.1,421.2 667.1,421.7 668.1,421.9 670.2,422.0 687.2,422.0" fill="none" stroke="#ff0000" stroke-width="1.5" stroke-linejoin="round"/>
<text x="537.90" y="245.00" font-size="10.8" textLength="25.7" lengthAdjust="spacingAndGlyphs">FabH</text>
<text x="537.90" y="257.80" font-size="10.8" font-weight="bold">1</text>
<text x="537.90" y="271.10" font-size="10.8" textLength="31.6" lengthAdjust="spacingAndGlyphs">pH 8.0</text>
<line x1="533.40" y1="376.40" x2="541.20" y2="376.40" stroke="#ff0000" stroke-width="1.8"/>
<text x="543.00" y="379.80" font-size="9.6">0 min</text>
<line x1="533.40" y1="387.20" x2="541.20" y2="387.20" stroke="#7030a0" stroke-width="1.8"/>
<text x="543.00" y="390.60" font-size="9.6">24 hr</text>
<text x="699.00" y="245.00" font-size="22">H</text>
<line x1="749.50" y1="237.00" x2="749.50" y2="426.60" stroke="#000" stroke-width="2.7"/>
<line x1="749.50" y1="388.70" x2="754.10" y2="388.70" stroke="#000" stroke-width="2.6"/>
<line x1="749.50" y1="355.10" x2="754.10" y2="355.10" stroke="#000" stroke-width="2.6"/>
<line x1="749.50" y1="321.50" x2="754.10" y2="321.50" stroke="#000" stroke-width="2.6"/>
<line x1="749.50" y1="287.90" x2="754.10" y2="287.90" stroke="#000" stroke-width="2.6"/>
<line x1="749.50" y1="254.30" x2="754.10" y2="254.30" stroke="#000" stroke-width="2.6"/>
<line x1="748.20" y1="422.30" x2="916.50" y2="422.30" stroke="#000" stroke-width="2.8"/>
<line x1="790.70" y1="422.30" x2="790.70" y2="426.60" stroke="#000" stroke-width="2.7"/>
<line x1="831.90" y1="422.30" x2="831.90" y2="426.60" stroke="#000" stroke-width="2.7"/>
<line x1="873.10" y1="422.30" x2="873.10" y2="426.60" stroke="#000" stroke-width="2.7"/>
<line x1="914.30" y1="422.30" x2="914.30" y2="426.60" stroke="#000" stroke-width="2.7"/>
<text x="735.50" y="427.20" font-size="16.3" text-anchor="end" textLength="8.62" lengthAdjust="spacingAndGlyphs">0</text>
<text x="735.50" y="393.60" font-size="16.3" text-anchor="end" textLength="25.85" lengthAdjust="spacingAndGlyphs">200</text>
<text x="735.50" y="360.00" font-size="16.3" text-anchor="end" textLength="25.85" lengthAdjust="spacingAndGlyphs">400</text>
<text x="735.50" y="326.40" font-size="16.3" text-anchor="end" textLength="25.85" lengthAdjust="spacingAndGlyphs">600</text>
<text x="735.50" y="292.80" font-size="16.3" text-anchor="end" textLength="25.85" lengthAdjust="spacingAndGlyphs">800</text>
<text x="735.50" y="259.20" font-size="16.3" text-anchor="end" textLength="34.47" lengthAdjust="spacingAndGlyphs">1000</text>
<text x="749.50" y="445.00" font-size="16.0" text-anchor="middle" textLength="8.51" lengthAdjust="spacingAndGlyphs">5</text>
<text x="790.70" y="445.00" font-size="16.0" text-anchor="middle" textLength="8.51" lengthAdjust="spacingAndGlyphs">6</text>
<text x="831.90" y="445.00" font-size="16.0" text-anchor="middle" textLength="8.51" lengthAdjust="spacingAndGlyphs">7</text>
<text x="873.10" y="445.00" font-size="16.0" text-anchor="middle" textLength="8.51" lengthAdjust="spacingAndGlyphs">8</text>
<text x="914.30" y="445.00" font-size="16.0" text-anchor="middle" textLength="8.51" lengthAdjust="spacingAndGlyphs">9</text>
<polyline points="749.5,422.0 824.9,422.0 828.9,421.8 831.9,420.7 832.9,421.0 833.9,421.5 834.9,421.7 837.0,421.8 839.0,421.5 841.0,420.9 842.0,420.3 844.0,418.7 845.0,418.4 846.0,418.6 849.0,421.0 850.0,421.4 852.0,421.8 856.0,422.0 859.1,421.8 860.1,421.6 861.1,421.2 862.1,420.4 863.1,419.2 864.1,417.4 865.1,414.8 866.1,411.0 867.1,404.9 868.1,393.2 869.1,372.5 871.1,318.7 872.1,313.0 873.1,332.1 875.1,390.3 876.2,406.5 877.2,414.5 878.2,418.2 879.2,420.1 880.2,421.1 881.2,421.6 883.2,422.0 916.4,422.0" fill="none" stroke="#7030a0" stroke-width="1.5" stroke-linejoin="round"/>
<polyline points="749.5,422.0 824.9,422.0 828.9,421.8 831.9,420.7 832.9,421.0 833.9,421.5 834.9,421.7 837.0,421.7 839.0,421.5 840.0,421.2 841.0,420.8 842.0,420.1 844.0,418.3 845.0,417.9 846.0,418.2 848.0,420.1 849.0,420.9 850.0,421.4 852.0,421.8 856.0,422.0 859.1,421.8 860.1,421.6 861.1,421.1 862.1,420.4 863.1,419.2 864.1,417.3 865.1,414.7 866.1,410.9 867.1,404.6 868.1,392.8 869.1,371.7 871.1,317.1 872.1,311.3 873.1,330.7 875.1,389.8 876.2,406.3 877.2,414.4 878.2,418.2 879.2,420.1 880.2,421.1 881.2,421.6 883.2,422.0 916.4,422.0" fill="none" stroke="#ff0000" stroke-width="1.5" stroke-linejoin="round"/>
<text x="764.50" y="245.00" font-size="10.8" textLength="25.7" lengthAdjust="spacingAndGlyphs">FabH</text>
<text x="764.50" y="257.80" font-size="10.8" font-weight="bold">2</text>
<text x="764.50" y="271.10" font-size="10.8" textLength="31.6" lengthAdjust="spacingAndGlyphs">pH 8.0</text>
<line x1="759.50" y1="378.00" x2="767.30" y2="378.00" stroke="#ff0000" stroke-width="1.8"/>
<text x="769.10" y="381.40" font-size="9.6">0 min</text>
<line x1="759.50" y1="387.60" x2="767.30" y2="387.60" stroke="#7030a0" stroke-width="1.8"/>
<text x="769.10" y="391.00" font-size="9.6">24 hr</text>
<text x="3.00" y="470.40" font-size="22">I</text>
<line x1="73.20" y1="461.70" x2="73.20" y2="650.70" stroke="#000" stroke-width="2.7"/>
<line x1="73.20" y1="612.80" x2="77.80" y2="612.80" stroke="#000" stroke-width="2.6"/>
<line x1="73.20" y1="579.20" x2="77.80" y2="579.20" stroke="#000" stroke-width="2.6"/>
<line x1="73.20" y1="545.60" x2="77.80" y2="545.60" stroke="#000" stroke-width="2.6"/>
<line x1="73.20" y1="512.00" x2="77.80" y2="512.00" stroke="#000" stroke-width="2.6"/>
<line x1="73.20" y1="478.40" x2="77.80" y2="478.40" stroke="#000" stroke-width="2.6"/>
<line x1="71.90" y1="646.40" x2="235.20" y2="646.40" stroke="#000" stroke-width="2.8"/>
<line x1="113.40" y1="646.40" x2="113.40" y2="650.70" stroke="#000" stroke-width="2.7"/>
<line x1="153.60" y1="646.40" x2="153.60" y2="650.70" stroke="#000" stroke-width="2.7"/>
<line x1="193.80" y1="646.40" x2="193.80" y2="650.70" stroke="#000" stroke-width="2.7"/>
<line x1="234.00" y1="646.40" x2="234.00" y2="650.70" stroke="#000" stroke-width="2.7"/>
<text x="59.20" y="651.30" font-size="16.3" text-anchor="end" textLength="8.62" lengthAdjust="spacingAndGlyphs">0</text>
<text x="59.20" y="617.70" font-size="16.3" text-anchor="end" textLength="25.85" lengthAdjust="spacingAndGlyphs">200</text>
<text x="59.20" y="584.10" font-size="16.3" text-anchor="end" textLength="25.85" lengthAdjust="spacingAndGlyphs">400</text>
<text x="59.20" y="550.50" font-size="16.3" text-anchor="end" textLength="25.85" lengthAdjust="spacingAndGlyphs">600</text>
<text x="59.20" y="516.90" font-size="16.3" text-anchor="end" textLength="25.85" lengthAdjust="spacingAndGlyphs">800</text>
<text x="59.20" y="483.30" font-size="16.3" text-anchor="end" textLength="34.47" lengthAdjust="spacingAndGlyphs">1000</text>
<text x="73.20" y="669.10" font-size="16.0" text-anchor="middle" textLength="8.51" lengthAdjust="spacingAndGlyphs">8</text>
<text x="113.40" y="669.10" font-size="16.0" text-anchor="middle" textLength="8.51" lengthAdjust="spacingAndGlyphs">9</text>
<text x="153.60" y="669.10" font-size="16.0" text-anchor="middle" textLength="17.01" lengthAdjust="spacingAndGlyphs">10</text>
<text x="193.80" y="669.10" font-size="16.0" text-anchor="middle" textLength="17.01" lengthAdjust="spacingAndGlyphs">11</text>
<text x="234.00" y="669.10" font-size="16.0" text-anchor="middle" textLength="17.01" lengthAdjust="spacingAndGlyphs">12</text>
<text x="15.20" y="669.00" font-size="14.2" textLength="50.8" lengthAdjust="spacingAndGlyphs">r.t. (min)</text>
<text x="29.00" y="467.70" font-size="14" textLength="29.4" lengthAdjust="spacingAndGlyphs">mAU</text>
<polyline points="73.2,645.0 77.2,644.8 79.2,644.4 80.2,644.0 82.2,642.4 83.2,642.0 84.3,642.4 86.3,644.1 87.3,644.6 89.3,644.9 92.3,645.0 109.4,645.0 112.4,644.9 113.4,644.8 114.4,644.4 115.4,643.8 116.4,642.6 117.4,640.3 118.4,635.4 119.4,625.0 121.4,590.9 122.4,585.7 123.5,596.9 124.5,615.4 125.5,630.0 126.5,637.9 127.5,641.4 128.5,643.1 129.5,644.1 130.5,644.6 131.5,644.8 135.5,645.0 149.6,645.0 154.6,644.7 161.6,645.0 194.8,645.0 197.8,644.9 198.8,644.7 199.8,644.4 200.8,643.7 201.8,642.5 202.8,640.1 203.9,634.6 204.9,624.0 205.9,609.3 206.9,598.3 207.9,599.7 209.9,626.6 210.9,636.1 211.9,640.7 212.9,642.8 213.9,643.9 214.9,644.5 216.9,644.9 219.9,645.0 236.0,645.0" fill="none" stroke="#7030a0" stroke-width="1.7" stroke-linejoin="round"/>
<polyline points="73.2,645.2 77.2,645.0 79.2,644.6 80.2,644.2 82.2,642.6 83.2,642.2 84.3,642.6 86.3,644.3 87.3,644.8 89.3,645.1 92.3,645.2 109.4,645.2 112.4,645.1 113.4,644.9 114.4,644.6 115.4,643.9 116.4,642.7 117.4,640.3 118.4,635.2 119.4,624.2 121.4,588.5 122.4,583.1 123.5,594.8 124.5,614.1 125.5,629.5 126.5,637.7 127.5,641.5 128.5,643.3 129.5,644.2 130.5,644.8 131.5,645.0 135.5,645.2 149.6,645.2 151.6,645.0 154.6,644.4 155.6,644.4 157.6,644.9 159.6,645.1 165.7,645.2 195.8,645.2 197.8,645.1 198.8,644.9 199.8,644.5 200.8,643.9 201.8,642.7 202.8,640.2 203.9,634.7 204.9,623.8 205.9,608.8 206.9,597.7 207.9,599.1 209.9,626.5 210.9,636.1 211.9,640.8 212.9,643.0 213.9,644.0 214.9,644.6 216.9,645.1 219.9,645.2 236.0,645.2" fill="none" stroke="#0000ff" stroke-width="1.7" stroke-linejoin="round"/>
<polyline points="73.2,645.4 77.2,645.2 79.2,644.8 80.2,644.4 82.2,642.8 83.2,642.4 84.3,642.8 86.3,644.5 87.3,645.0 89.3,645.3 91.3,645.4 109.4,645.4 112.4,645.3 114.4,644.9 115.4,644.4 116.4,643.4 117.4,641.5 118.4,637.3 119.4,628.5 121.4,599.7 122.4,595.3 123.5,604.8 124.5,620.4 125.5,632.7 126.5,639.4 127.5,642.4 128.5,643.8 129.5,644.6 130.5,645.0 132.5,645.4 142.5,645.4 145.6,645.3 146.6,645.1 147.6,644.6 148.6,643.8 149.6,642.3 150.6,638.8 151.6,631.6 153.6,605.6 154.6,597.5 155.6,600.8 157.6,625.2 158.6,633.9 159.6,638.5 160.6,641.0 161.6,642.6 162.6,643.6 163.7,644.4 164.7,644.8 165.7,645.1 167.7,645.4 169.7,645.4 196.8,645.4 198.8,645.3 200.8,645.0 201.8,644.5 202.8,643.7 203.9,641.7 204.9,638.0 205.9,632.7 206.9,628.9 207.9,629.4 209.9,638.9 210.9,642.3 211.9,643.9 212.9,644.6 213.9,645.0 214.9,645.2 216.9,645.4 236.0,645.4" fill="none" stroke="#22ffff" stroke-width="1.7" stroke-linejoin="round"/>
<polyline points="73.2,645.6 77.2,645.4 79.2,645.0 80.2,644.6 82.2,643.0 83.2,642.6 84.3,643.0 86.3,644.7 87.3,645.2 89.3,645.5 93.3,645.6 112.4,645.6 114.4,645.4 115.4,645.2 116.4,644.8 117.4,644.0 118.4,642.4 119.4,638.8 121.4,627.2 122.4,625.4 123.5,629.2 124.5,635.5 125.5,640.5 126.5,643.2 127.5,644.4 128.5,645.0 129.5,645.3 131.5,645.6 143.6,645.6 145.6,645.2 146.6,644.7 147.6,643.5 148.6,641.4 149.6,637.2 150.6,628.0 151.6,608.9 153.6,539.3 154.6,517.8 155.6,526.8 157.6,591.7 158.6,614.8 159.6,627.2 160.6,633.9 161.6,638.0 162.6,640.8 163.7,642.8 164.7,644.0 165.7,644.8 166.7,645.2 167.7,645.4 169.7,645.6 196.8,645.6 201.8,645.5 202.8,645.3 203.9,644.9 206.9,642.3 207.9,642.4 209.9,644.3 210.9,645.0 211.9,645.3 212.9,645.5 216.9,645.6 236.0,645.6" fill="none" stroke="#22dd22" stroke-width="1.7" stroke-linejoin="round"/>
<polyline points="73.2,645.8 77.2,645.6 79.2,645.2 80.2,644.8 82.2,643.2 83.2,642.8 84.3,643.2 86.3,645.0 87.3,645.4 89.3,645.7 93.3,645.8 111.4,645.8 114.4,645.7 116.4,645.5 117.4,645.2 118.4,644.6 119.4,643.2 121.4,638.7 122.4,638.0 123.5,639.5 124.5,641.9 125.5,643.8 126.5,644.9 127.5,645.4 128.5,645.6 132.5,645.8 143.6,645.8 144.6,645.6 145.6,645.3 146.6,644.6 147.6,643.2 148.6,640.6 149.6,635.3 150.6,623.9 151.6,600.2 153.6,513.8 154.6,487.1 155.6,498.3 157.6,578.9 158.6,607.5 159.6,623.0 160.6,631.2 161.6,636.3 162.6,639.9 163.7,642.3 164.7,643.8 165.7,644.8 166.7,645.3 167.7,645.6 169.7,645.8 201.8,645.8 203.9,645.5 206.9,644.5 207.9,644.6 210.9,645.6 212.9,645.8 236.0,645.8" fill="none" stroke="#b4b400" stroke-width="1.7" stroke-linejoin="round"/>
<polyline points="73.2,646.0 77.2,645.8 79.2,645.4 80.2,645.0 82.2,643.4 83.2,643.0 84.3,643.4 86.3,645.2 87.3,645.6 89.3,645.9 93.3,646.0 112.4,646.0 116.4,645.9 117.4,645.7 118.4,645.4 119.4,644.6 121.4,642.2 122.4,641.9 123.5,642.6 124.5,643.9 125.5,645.0 126.5,645.5 127.5,645.8 129.5,646.0 141.5,646.0 144.6,645.8 145.6,645.5 146.6,644.8 147.6,643.4 148.6,640.7 149.6,635.3 150.6,623.7 151.6,599.4 153.6,511.3 154.6,483.9 155.6,495.4 157.6,577.7 158.6,606.9 159.6,622.7 160.6,631.1 161.6,636.3 162.6,639.9 163.7,642.4 164.7,644.0 165.7,645.0 166.7,645.5 167.7,645.8 169.7,646.0 200.8,646.0 203.9,645.8 206.9,645.2 207.9,645.2 210.9,645.9 212.9,646.0 236.0,646.0" fill="none" stroke="#ffa500" stroke-width="1.7" stroke-linejoin="round"/>
<polyline points="73.2,646.2 77.2,646.0 79.2,645.6 80.2,645.2 82.2,643.6 83.2,643.2 84.3,643.6 86.3,645.4 87.3,645.8 89.3,646.1 93.3,646.2 112.4,646.2 116.4,646.1 118.4,645.8 119.4,645.4 121.4,643.9 122.4,643.7 123.5,644.2 125.5,645.6 126.5,645.9 127.5,646.1 131.5,646.2 143.6,646.2 144.6,646.0 145.6,645.7 146.6,645.0 147.6,643.6 148.6,640.9 149.6,635.6 150.6,624.0 151.6,599.9 153.6,512.2 154.6,485.0 155.6,496.3 157.6,578.2 158.6,607.3 159.6,623.0 160.6,631.4 161.6,636.6 162.6,640.2 163.7,642.6 164.7,644.2 165.7,645.2 166.7,645.7 167.7,646.0 169.7,646.2 200.8,646.2 203.9,646.0 206.9,645.4 207.9,645.4 210.9,646.1 212.9,646.2 236.0,646.2" fill="none" stroke="#ff0000" stroke-width="1.7" stroke-linejoin="round"/>
<text x="82.40" y="472.80" font-size="10.8" textLength="25.8" lengthAdjust="spacingAndGlyphs">FabH</text>
<text x="82.40" y="486.20" font-size="10.8" textLength="61.5" lengthAdjust="spacingAndGlyphs">malonyl-CoA</text>
<text x="82.40" y="499.50" font-size="10.8" textLength="30.4" lengthAdjust="spacingAndGlyphs">pH 8.0</text>
<line x1="80.40" y1="569.40" x2="88.20" y2="569.40" stroke="#ff0000" stroke-width="1.8"/>
<text x="90.00" y="572.80" font-size="9.6">0 min</text>
<line x1="80.40" y1="578.82" x2="88.20" y2="578.82" stroke="#ffa500" stroke-width="1.8"/>
<text x="90.00" y="582.22" font-size="9.6">1 min</text>
<line x1="80.40" y1="588.24" x2="88.20" y2="588.24" stroke="#b4b400" stroke-width="1.8"/>
<text x="90.00" y="591.64" font-size="9.6">1 hr</text>
<line x1="80.40" y1="597.66" x2="88.20" y2="597.66" stroke="#22dd22" stroke-width="1.8"/>
<text x="90.00" y="601.06" font-size="9.6">3 hr</text>
<line x1="80.40" y1="607.08" x2="88.20" y2="607.08" stroke="#22ffff" stroke-width="1.8"/>
<text x="90.00" y="610.48" font-size="9.6">6 hr</text>
<line x1="80.40" y1="616.50" x2="88.20" y2="616.50" stroke="#0000ff" stroke-width="1.8"/>
<text x="90.00" y="619.90" font-size="9.6">12 hr</text>
<line x1="80.40" y1="625.92" x2="88.20" y2="625.92" stroke="#7030a0" stroke-width="1.8"/>
<text x="90.00" y="629.32" font-size="9.6">24 hr</text>
<line x1="163.30" y1="481.30" x2="163.30" y2="506.30" stroke="#000" stroke-width="1.6"/>
<path d="M160.90,504.30L165.70,504.30L163.30,509.80Z" fill="#000"/>
<line x1="128.80" y1="610.90" x2="128.80" y2="587.20" stroke="#000" stroke-width="1.6"/>
<path d="M126.40,589.20L131.20,589.20L128.80,583.70Z" fill="#000"/>
<line x1="214.60" y1="621.30" x2="214.60" y2="600.10" stroke="#000" stroke-width="1.6"/>
<path d="M212.20,602.10L217.00,602.10L214.60,596.60Z" fill="#000"/>
<text x="244.60" y="470.40" font-size="22">J</text>
<rect x="290.00" y="465.70" width="179.30" height="179.10" fill="none" stroke="#000" stroke-width="1.7"/>
<line x1="290.00" y1="476.03" x2="293.20" y2="476.03" stroke="#000" stroke-width="1.4"/>
<text x="285.70" y="478.03" font-size="13.4" text-anchor="end">245</text>
<line x1="290.00" y1="520.81" x2="293.20" y2="520.81" stroke="#000" stroke-width="1.4"/>
<text x="285.70" y="522.81" font-size="13.4" text-anchor="end">180</text>
<line x1="290.00" y1="565.58" x2="293.20" y2="565.58" stroke="#000" stroke-width="1.4"/>
<text x="285.70" y="567.58" font-size="13.4" text-anchor="end">115</text>
<line x1="290.00" y1="610.36" x2="293.20" y2="610.36" stroke="#000" stroke-width="1.4"/>
<text x="285.70" y="612.36" font-size="13.4" text-anchor="end">50</text>
<text x="297.16" y="659.00" font-size="13.2" text-anchor="middle">60</text>
<line x1="297.16" y1="644.80" x2="297.16" y2="647.60" stroke="#000" stroke-width="1.3"/>
<text x="332.98" y="659.00" font-size="13.2" text-anchor="middle">360</text>
<line x1="332.98" y1="644.80" x2="332.98" y2="647.60" stroke="#000" stroke-width="1.3"/>
<text x="368.80" y="659.00" font-size="13.2" text-anchor="middle">660</text>
<line x1="368.80" y1="644.80" x2="368.80" y2="647.60" stroke="#000" stroke-width="1.3"/>
<text x="404.62" y="659.00" font-size="13.2" text-anchor="middle">960</text>
<line x1="404.62" y1="644.80" x2="404.62" y2="647.60" stroke="#000" stroke-width="1.3"/>
<text x="440.44" y="659.00" font-size="13.2" text-anchor="middle">1260</text>
<line x1="440.44" y1="644.80" x2="440.44" y2="647.60" stroke="#000" stroke-width="1.3"/>
<text x="378.15" y="671.00" font-size="13.3" text-anchor="middle" textLength="59" lengthAdjust="spacingAndGlyphs">time (min)</text>
<text x="0" y="0" font-size="13.4" text-anchor="middle" textLength="142" lengthAdjust="spacingAndGlyphs" transform="translate(261.00,555.25) rotate(-90)">[substrate/product] (&#956;M)</text>
<polyline points="290.0,467.8 295.0,477.7 297.5,482.3 300.0,486.3 306.0,495.3 309.0,500.4 314.5,510.8 319.0,520.6 323.5,531.9 327.5,543.5 330.0,551.8 335.0,570.7 338.5,582.6 343.0,596.8 347.5,609.6 351.5,619.6 355.0,626.8 357.0,630.3 359.0,633.4 361.0,636.0 362.5,637.6 364.0,638.9 365.5,639.9 367.5,640.9 369.5,641.6 372.0,642.2 375.5,642.7 383.0,643.5 390.5,643.7 407.5,643.8 469.1,644.0" fill="none" stroke="#d60008" stroke-width="3.0" stroke-linejoin="round"/>
<polyline points="290.0,644.8 298.0,643.3 300.0,642.7 301.5,642.0 303.5,641.0 305.5,639.6 308.0,637.6 310.5,635.4 314.0,632.1 317.0,629.1 320.5,625.2 324.5,620.5 329.0,614.8 344.0,595.0 346.5,591.9 351.0,586.9 354.5,583.3 357.5,580.8 361.0,578.6 364.5,576.9 367.5,576.0 370.5,575.4 374.0,575.1 379.0,575.0 384.5,575.1 398.5,575.7 411.5,576.0 469.3,576.8" fill="none" stroke="#ffd000" stroke-width="3.0" stroke-linejoin="round"/>
<polyline points="290.0,639.4 296.5,634.9 303.0,629.7 307.0,626.0 311.0,621.4 315.5,615.2 320.0,608.3 323.0,603.1 329.5,591.1 333.0,585.1 339.0,575.5 348.5,561.1 351.5,557.1 354.5,553.8 358.0,550.9 362.0,548.4 365.5,546.7 369.0,545.7 374.0,544.9 380.5,544.4 387.0,544.1 469.3,542.3" fill="none" stroke="#08780a" stroke-width="3.0" stroke-linejoin="round"/>
<rect x="287.40" y="475.70" width="5.20" height="5.20" fill="#cc0000" stroke="#8a0000" stroke-width="0.5"/>
<rect x="294.70" y="480.60" width="5.20" height="5.20" fill="#cc0000" stroke="#8a0000" stroke-width="0.5"/>
<rect x="309.60" y="500.20" width="5.20" height="5.20" fill="#cc0000" stroke="#8a0000" stroke-width="0.5"/>
<rect x="330.70" y="582.40" width="5.20" height="5.20" fill="#cc0000" stroke="#8a0000" stroke-width="0.5"/>
<rect x="373.40" y="642.00" width="5.20" height="5.20" fill="#cc0000" stroke="#8a0000" stroke-width="0.5"/>
<rect x="459.60" y="642.00" width="5.20" height="5.20" fill="#cc0000" stroke="#8a0000" stroke-width="0.5"/>
<circle cx="290.00" cy="639.40" r="2.7" fill="#2a9a2a" stroke="#1a4a1a" stroke-width="0.7"/>
<circle cx="297.30" cy="635.00" r="2.7" fill="#2a9a2a" stroke="#1a4a1a" stroke-width="0.7"/>
<circle cx="312.20" cy="619.00" r="2.7" fill="#2a9a2a" stroke="#1a4a1a" stroke-width="0.7"/>
<circle cx="332.90" cy="567.90" r="2.7" fill="#2a9a2a" stroke="#1a4a1a" stroke-width="0.7"/>
<circle cx="376.00" cy="548.30" r="2.7" fill="#2a9a2a" stroke="#1a4a1a" stroke-width="0.7"/>
<circle cx="462.20" cy="543.50" r="2.7" fill="#2a9a2a" stroke="#1a4a1a" stroke-width="0.7"/>
<path d="M290.00,642.50L292.30,644.80L290.00,647.10L287.70,644.80Z" fill="#000" stroke="#000" stroke-width="0.7"/>
<path d="M297.30,642.50L299.60,644.80L297.30,647.10L295.00,644.80Z" fill="#000" stroke="#000" stroke-width="0.7"/>
<path d="M312.20,640.00L314.50,642.30L312.20,644.60L309.90,642.30Z" fill="#000" stroke="#000" stroke-width="0.7"/>
<path d="M332.90,607.80L335.20,610.10L332.90,612.40L330.60,610.10Z" fill="#000" stroke="#000" stroke-width="0.7"/>
<path d="M376.00,567.60L378.30,569.90L376.00,572.20L373.70,569.90Z" fill="#000" stroke="#000" stroke-width="0.7"/>
<path d="M462.20,572.50L464.50,574.80L462.20,577.10L459.90,574.80Z" fill="#000" stroke="#000" stroke-width="0.7"/>
<text x="330.40" y="480.90" font-size="10.8" textLength="132.8" lengthAdjust="spacingAndGlyphs">FabH, malonyl-CoA, pH 8.0</text>
<text x="431.30" y="536.90" font-size="8.8" fill="#1f8a1f" textLength="31.8" lengthAdjust="spacingAndGlyphs">CoA-SH</text>
<text x="398.30" y="589.50" font-size="8.8" textLength="65.3" lengthAdjust="spacingAndGlyphs">acetoacetyl-CoA</text>
<text x="411.80" y="637.90" font-size="8.8" fill="#d60008" textLength="50.1" lengthAdjust="spacingAndGlyphs">malonyl-CoA</text>
<text x="473.70" y="470.40" font-size="22">K</text>
<line x1="523.60" y1="462.50" x2="523.60" y2="651.60" stroke="#000" stroke-width="2.7"/>
<line x1="523.60" y1="613.70" x2="528.20" y2="613.70" stroke="#000" stroke-width="2.6"/>
<line x1="523.60" y1="580.10" x2="528.20" y2="580.10" stroke="#000" stroke-width="2.6"/>
<line x1="523.60" y1="546.50" x2="528.20" y2="546.50" stroke="#000" stroke-width="2.6"/>
<line x1="523.60" y1="512.90" x2="528.20" y2="512.90" stroke="#000" stroke-width="2.6"/>
<line x1="523.60" y1="479.30" x2="528.20" y2="479.30" stroke="#000" stroke-width="2.6"/>
<line x1="522.30" y1="647.30" x2="686.50" y2="647.30" stroke="#000" stroke-width="2.8"/>
<line x1="564.00" y1="647.30" x2="564.00" y2="651.60" stroke="#000" stroke-width="2.7"/>
<line x1="604.40" y1="647.30" x2="604.40" y2="651.60" stroke="#000" stroke-width="2.7"/>
<line x1="644.80" y1="647.30" x2="644.80" y2="651.60" stroke="#000" stroke-width="2.7"/>
<line x1="685.20" y1="647.30" x2="685.20" y2="651.60" stroke="#000" stroke-width="2.7"/>
<text x="509.60" y="652.20" font-size="16.3" text-anchor="end" textLength="8.62" lengthAdjust="spacingAndGlyphs">0</text>
<text x="509.60" y="618.60" font-size="16.3" text-anchor="end" textLength="25.85" lengthAdjust="spacingAndGlyphs">200</text>
<text x="509.60" y="585.00" font-size="16.3" text-anchor="end" textLength="25.85" lengthAdjust="spacingAndGlyphs">400</text>
<text x="509.60" y="551.40" font-size="16.3" text-anchor="end" textLength="25.85" lengthAdjust="spacingAndGlyphs">600</text>
<text x="509.60" y="517.80" font-size="16.3" text-anchor="end" textLength="25.85" lengthAdjust="spacingAndGlyphs">800</text>
<text x="509.60" y="484.20" font-size="16.3" text-anchor="end" textLength="34.47" lengthAdjust="spacingAndGlyphs">1000</text>
<text x="523.60" y="670.00" font-size="16.0" text-anchor="middle" textLength="8.51" lengthAdjust="spacingAndGlyphs">6</text>
<text x="564.00" y="670.00" font-size="16.0" text-anchor="middle" textLength="8.51" lengthAdjust="spacingAndGlyphs">7</text>
<text x="604.40" y="670.00" font-size="16.0" text-anchor="middle" textLength="8.51" lengthAdjust="spacingAndGlyphs">8</text>
<text x="644.80" y="670.00" font-size="16.0" text-anchor="middle" textLength="8.51" lengthAdjust="spacingAndGlyphs">9</text>
<text x="685.20" y="670.00" font-size="16.0" text-anchor="middle" textLength="17.01" lengthAdjust="spacingAndGlyphs">10</text>
<polyline points="523.6,647.0 550.7,647.0 552.7,646.9 553.7,646.6 554.7,646.2 555.7,645.1 556.7,643.0 557.7,639.1 559.7,628.8 560.7,626.6 561.7,628.5 563.8,638.9 564.8,642.8 565.8,645.0 566.8,646.1 567.8,646.6 569.8,647.0 572.8,647.0 620.0,647.0 623.0,646.8 624.0,646.5 625.0,645.9 626.0,644.9 627.0,643.3 628.0,640.6 629.0,635.2 630.0,624.2 631.0,604.5 632.0,578.8 633.0,559.7 634.0,560.4 635.0,580.6 636.0,606.7 637.0,626.4 638.0,637.2 639.0,642.3 640.0,644.6 641.0,645.9 642.0,646.5 643.1,646.8 645.1,647.0 687.2,647.0" fill="none" stroke="#7030a0" stroke-width="1.5" stroke-linejoin="round"/>
<polyline points="523.6,647.0 550.7,647.0 552.7,646.9 553.7,646.8 554.7,646.4 555.7,645.7 556.7,644.1 557.7,641.4 559.7,634.0 560.7,632.4 561.7,633.9 563.8,641.2 564.8,644.0 565.8,645.6 566.8,646.4 567.8,646.7 569.8,647.0 572.8,647.0 620.0,647.0 622.0,646.9 623.0,646.7 624.0,646.3 625.0,645.5 626.0,644.2 627.0,642.1 628.0,638.5 629.0,631.5 630.0,617.0 631.0,590.9 632.0,557.1 633.0,532.0 634.0,532.9 635.0,559.5 636.0,593.9 637.0,619.8 638.0,634.1 639.0,640.7 640.0,643.9 641.0,645.5 642.0,646.3 643.1,646.8 645.1,647.0 687.2,647.0" fill="none" stroke="#ff0000" stroke-width="1.5" stroke-linejoin="round"/>
<text x="537.90" y="473.20" font-size="10.8" textLength="25.7" lengthAdjust="spacingAndGlyphs">FabH</text>
<text x="537.90" y="486.50" font-size="10.8" font-weight="bold">3</text>
<text x="537.90" y="499.60" font-size="10.8" textLength="31.6" lengthAdjust="spacingAndGlyphs">pH 8.0</text>
<line x1="533.40" y1="601.40" x2="541.20" y2="601.40" stroke="#ff0000" stroke-width="1.8"/>
<text x="543.00" y="604.80" font-size="9.6">0 min</text>
<line x1="533.40" y1="612.20" x2="541.20" y2="612.20" stroke="#7030a0" stroke-width="1.8"/>
<text x="543.00" y="615.60" font-size="9.6">24 hr</text>
<text x="699.00" y="470.40" font-size="22">L</text>
<line x1="749.50" y1="462.00" x2="749.50" y2="651.60" stroke="#000" stroke-width="2.7"/>
<line x1="749.50" y1="613.70" x2="754.10" y2="613.70" stroke="#000" stroke-width="2.6"/>
<line x1="749.50" y1="580.10" x2="754.10" y2="580.10" stroke="#000" stroke-width="2.6"/>
<line x1="749.50" y1="546.50" x2="754.10" y2="546.50" stroke="#000" stroke-width="2.6"/>
<line x1="749.50" y1="512.90" x2="754.10" y2="512.90" stroke="#000" stroke-width="2.6"/>
<line x1="749.50" y1="479.30" x2="754.10" y2="479.30" stroke="#000" stroke-width="2.6"/>
<line x1="748.20" y1="647.30" x2="916.50" y2="647.30" stroke="#000" stroke-width="2.8"/>
<line x1="790.70" y1="647.30" x2="790.70" y2="651.60" stroke="#000" stroke-width="2.7"/>
<line x1="831.90" y1="647.30" x2="831.90" y2="651.60" stroke="#000" stroke-width="2.7"/>
<line x1="873.10" y1="647.30" x2="873.10" y2="651.60" stroke="#000" stroke-width="2.7"/>
<line x1="914.30" y1="647.30" x2="914.30" y2="651.60" stroke="#000" stroke-width="2.7"/>
<text x="735.50" y="652.20" font-size="16.3" text-anchor="end" textLength="8.62" lengthAdjust="spacingAndGlyphs">0</text>
<text x="735.50" y="618.60" font-size="16.3" text-anchor="end" textLength="25.85" lengthAdjust="spacingAndGlyphs">200</text>
<text x="735.50" y="585.00" font-size="16.3" text-anchor="end" textLength="25.85" lengthAdjust="spacingAndGlyphs">400</text>
<text x="735.50" y="551.40" font-size="16.3" text-anchor="end" textLength="25.85" lengthAdjust="spacingAndGlyphs">600</text>
<text x="735.50" y="517.80" font-size="16.3" text-anchor="end" textLength="25.85" lengthAdjust="spacingAndGlyphs">800</text>
<text x="735.50" y="484.20" font-size="16.3" text-anchor="end" textLength="34.47" lengthAdjust="spacingAndGlyphs">1000</text>
<text x="749.50" y="670.00" font-size="16.0" text-anchor="middle" textLength="8.51" lengthAdjust="spacingAndGlyphs">5</text>
<text x="790.70" y="670.00" font-size="16.0" text-anchor="middle" textLength="8.51" lengthAdjust="spacingAndGlyphs">6</text>
<text x="831.90" y="670.00" font-size="16.0" text-anchor="middle" textLength="8.51" lengthAdjust="spacingAndGlyphs">7</text>
<text x="873.10" y="670.00" font-size="16.0" text-anchor="middle" textLength="8.51" lengthAdjust="spacingAndGlyphs">8</text>
<text x="914.30" y="670.00" font-size="16.0" text-anchor="middle" textLength="8.51" lengthAdjust="spacingAndGlyphs">9</text>
<polyline points="749.5,647.0 835.9,647.0 838.0,646.9 840.0,646.5 841.0,646.0 842.0,645.1 843.0,643.8 844.0,641.9 845.0,639.2 846.0,635.0 847.0,627.6 848.0,613.7 850.0,565.7 851.0,550.6 852.0,556.8 854.0,608.1 855.0,627.3 856.0,637.5 857.1,642.3 858.1,644.6 859.1,645.9 860.1,646.5 861.1,646.8 863.1,647.0 868.1,646.8 869.1,646.6 871.1,645.9 872.1,645.7 873.1,645.8 875.1,646.6 876.2,646.8 879.2,647.0 916.4,647.0" fill="none" stroke="#7030a0" stroke-width="1.5" stroke-linejoin="round"/>
<polyline points="749.5,647.0 835.9,647.0 838.0,646.9 840.0,646.4 841.0,645.8 842.0,644.9 843.0,643.4 844.0,641.3 845.0,638.2 846.0,633.5 847.0,625.2 848.0,609.4 850.0,555.3 851.0,538.2 852.0,545.2 854.0,603.1 855.0,624.7 856.0,636.3 857.1,641.7 858.1,644.3 859.1,645.7 860.1,646.4 861.1,646.8 863.1,647.0 866.1,646.9 868.1,646.7 869.1,646.5 871.1,645.6 872.1,645.4 873.1,645.5 875.1,646.5 876.2,646.8 879.2,647.0 916.4,647.0" fill="none" stroke="#ff0000" stroke-width="1.5" stroke-linejoin="round"/>
<text x="764.50" y="473.20" font-size="10.8" textLength="25.7" lengthAdjust="spacingAndGlyphs">FabH</text>
<text x="764.50" y="486.50" font-size="10.8" font-weight="bold">4</text>
<text x="764.50" y="499.60" font-size="10.8" textLength="31.6" lengthAdjust="spacingAndGlyphs">pH 8.0</text>
<line x1="759.50" y1="603.00" x2="767.30" y2="603.00" stroke="#ff0000" stroke-width="1.8"/>
<text x="769.10" y="606.40" font-size="9.6">0 min</text>
<line x1="759.50" y1="612.60" x2="767.30" y2="612.60" stroke="#7030a0" stroke-width="1.8"/>
<text x="769.10" y="616.00" font-size="9.6">24 hr</text>
<text x="3.00" y="695.80" font-size="22">M</text>
<line x1="73.20" y1="686.70" x2="73.20" y2="875.70" stroke="#000" stroke-width="2.7"/>
<line x1="73.20" y1="837.80" x2="77.80" y2="837.80" stroke="#000" stroke-width="2.6"/>
<line x1="73.20" y1="804.20" x2="77.80" y2="804.20" stroke="#000" stroke-width="2.6"/>
<line x1="73.20" y1="770.60" x2="77.80" y2="770.60" stroke="#000" stroke-width="2.6"/>
<line x1="73.20" y1="737.00" x2="77.80" y2="737.00" stroke="#000" stroke-width="2.6"/>
<line x1="73.20" y1="703.40" x2="77.80" y2="703.40" stroke="#000" stroke-width="2.6"/>
<line x1="71.90" y1="871.40" x2="235.20" y2="871.40" stroke="#000" stroke-width="2.8"/>
<line x1="113.40" y1="871.40" x2="113.40" y2="875.70" stroke="#000" stroke-width="2.7"/>
<line x1="153.60" y1="871.40" x2="153.60" y2="875.70" stroke="#000" stroke-width="2.7"/>
<line x1="193.80" y1="871.40" x2="193.80" y2="875.70" stroke="#000" stroke-width="2.7"/>
<line x1="234.00" y1="871.40" x2="234.00" y2="875.70" stroke="#000" stroke-width="2.7"/>
<text x="59.20" y="876.30" font-size="16.3" text-anchor="end" textLength="8.62" lengthAdjust="spacingAndGlyphs">0</text>
<text x="59.20" y="842.70" font-size="16.3" text-anchor="end" textLength="25.85" lengthAdjust="spacingAndGlyphs">200</text>
<text x="59.20" y="809.10" font-size="16.3" text-anchor="end" textLength="25.85" lengthAdjust="spacingAndGlyphs">400</text>
<text x="59.20" y="775.50" font-size="16.3" text-anchor="end" textLength="25.85" lengthAdjust="spacingAndGlyphs">600</text>
<text x="59.20" y="741.90" font-size="16.3" text-anchor="end" textLength="25.85" lengthAdjust="spacingAndGlyphs">800</text>
<text x="59.20" y="708.30" font-size="16.3" text-anchor="end" textLength="34.47" lengthAdjust="spacingAndGlyphs">1000</text>
<text x="73.20" y="894.10" font-size="16.0" text-anchor="middle" textLength="8.51" lengthAdjust="spacingAndGlyphs">8</text>
<text x="113.40" y="894.10" font-size="16.0" text-anchor="middle" textLength="8.51" lengthAdjust="spacingAndGlyphs">9</text>
<text x="153.60" y="894.10" font-size="16.0" text-anchor="middle" textLength="17.01" lengthAdjust="spacingAndGlyphs">10</text>
<text x="193.80" y="894.10" font-size="16.0" text-anchor="middle" textLength="17.01" lengthAdjust="spacingAndGlyphs">11</text>
<text x="234.00" y="894.10" font-size="16.0" text-anchor="middle" textLength="17.01" lengthAdjust="spacingAndGlyphs">12</text>
<text x="15.20" y="894.00" font-size="14.2" textLength="50.8" lengthAdjust="spacingAndGlyphs">r.t. (min)</text>
<text x="29.00" y="692.70" font-size="14" textLength="29.4" lengthAdjust="spacingAndGlyphs">mAU</text>
<polyline points="73.2,870.0 84.3,870.0 88.3,869.6 90.3,869.0 91.3,868.3 93.3,865.7 94.3,865.3 95.3,866.3 96.3,867.7 97.3,868.8 98.3,869.4 99.3,869.7 101.3,869.9 110.4,870.0 114.4,869.9 115.4,869.7 116.4,869.3 117.4,868.5 118.4,866.9 119.4,864.2 120.4,859.1 121.4,848.0 122.4,823.7 124.5,747.8 125.5,743.7 126.5,775.7 127.5,816.8 128.5,844.4 129.5,857.6 130.5,863.4 131.5,866.5 132.5,868.2 133.5,869.2 134.5,869.7 135.5,869.9 137.5,870.0 141.5,869.9 143.6,869.6 144.6,869.3 145.6,868.9 146.6,868.2 147.6,867.3 148.6,865.8 149.6,863.2 150.6,858.8 151.6,852.8 152.6,848.0 153.6,847.5 154.6,852.2 155.6,859.0 156.6,864.3 157.6,867.3 158.6,868.7 159.6,869.4 161.6,869.9 163.7,870.0 195.8,870.0 197.8,869.9 198.8,869.7 199.8,869.3 200.8,868.5 201.8,867.0 202.8,864.4 203.9,859.2 204.9,848.4 205.9,827.7 207.9,769.2 208.9,760.2 209.9,776.5 211.9,833.9 212.9,850.9 213.9,859.7 214.9,864.1 215.9,866.6 216.9,868.2 217.9,869.1 218.9,869.6 219.9,869.8 221.9,870.0 236.0,870.0" fill="none" stroke="#7030a0" stroke-width="1.7" stroke-linejoin="round"/>
<polyline points="73.2,870.2 84.3,870.2 88.3,869.8 90.3,869.2 91.3,868.5 93.3,865.9 94.3,865.5 95.3,866.5 96.3,867.9 97.3,869.0 98.3,869.6 100.3,870.0 104.4,870.2 114.4,870.1 115.4,870.0 116.4,869.7 117.4,869.0 118.4,867.7 119.4,865.5 120.4,861.3 121.4,852.2 122.4,832.4 124.5,770.5 125.5,767.2 126.5,793.2 127.5,826.8 128.5,849.3 129.5,860.1 130.5,864.8 131.5,867.3 132.5,868.8 133.5,869.5 134.5,869.9 135.5,870.1 139.5,870.2 141.5,870.0 142.5,869.7 143.6,869.3 144.6,868.5 145.6,867.4 146.6,865.8 147.6,863.6 148.6,860.0 149.6,853.6 150.6,842.7 151.6,828.1 152.6,816.3 153.6,815.1 154.6,826.7 155.6,843.2 156.6,856.3 157.6,863.6 158.6,867.0 159.6,868.6 160.6,869.4 161.6,869.9 162.6,870.1 164.7,870.2 195.8,870.2 197.8,870.1 198.8,869.8 199.8,869.3 200.8,868.4 201.8,866.7 202.8,863.6 203.9,857.4 204.9,844.5 205.9,821.0 206.9,789.6 207.9,764.3 208.9,761.5 209.9,782.9 210.9,813.8 211.9,838.9 212.9,853.7 213.9,861.1 214.9,865.0 215.9,867.2 216.9,868.6 217.9,869.4 218.9,869.8 219.9,870.1 221.9,870.2 236.0,870.2" fill="none" stroke="#0000ff" stroke-width="1.7" stroke-linejoin="round"/>
<polyline points="73.2,870.4 84.3,870.4 88.3,870.0 90.3,869.4 91.3,868.7 93.3,866.1 94.3,865.8 95.3,866.7 96.3,868.1 97.3,869.2 98.3,869.8 100.3,870.2 104.4,870.4 114.4,870.4 116.4,870.1 117.4,869.7 118.4,869.0 119.4,867.7 120.4,865.4 121.4,860.2 122.4,848.9 124.5,813.6 125.5,811.7 126.5,826.6 127.5,845.7 128.5,858.5 129.5,864.6 130.5,867.4 131.5,868.8 132.5,869.6 133.5,870.0 134.5,870.3 136.5,870.4 138.5,870.4 140.5,870.2 141.5,869.9 142.5,869.4 143.6,868.5 144.6,867.0 145.6,864.7 146.6,861.4 147.6,856.8 148.6,849.4 149.6,836.3 150.6,813.8 151.6,783.8 152.6,759.4 153.6,757.1 154.6,781.0 155.6,814.9 156.6,841.7 157.6,856.8 158.6,863.8 159.6,867.1 160.6,868.8 161.6,869.7 162.6,870.1 164.7,870.4 195.8,870.4 197.8,870.2 198.8,869.8 199.8,869.1 200.8,867.8 201.8,865.5 202.8,861.1 203.9,852.1 204.9,833.5 205.9,801.9 206.9,763.5 207.9,737.9 208.9,742.3 209.9,773.1 210.9,810.2 211.9,837.8 212.9,853.1 213.9,860.8 214.9,864.9 215.9,867.3 216.9,868.8 217.9,869.6 218.9,870.0 219.9,870.3 221.9,870.4 236.0,870.4" fill="none" stroke="#22ffff" stroke-width="1.7" stroke-linejoin="round"/>
<polyline points="73.2,870.6 84.3,870.6 88.3,870.2 90.3,869.6 91.3,868.9 93.3,866.3 94.3,866.0 95.3,866.9 96.3,868.3 97.3,869.4 98.3,870.0 99.3,870.3 101.3,870.5 103.4,870.6 114.4,870.6 116.4,870.4 117.4,870.2 118.4,869.7 119.4,868.9 120.4,867.3 121.4,864.0 122.4,856.6 124.5,833.7 125.5,832.5 126.5,842.2 127.5,854.6 128.5,862.9 129.5,866.9 130.5,868.6 131.5,869.6 132.5,870.1 134.5,870.5 138.5,870.6 140.5,870.3 141.5,870.0 142.5,869.4 143.6,868.4 144.6,866.6 145.6,864.0 146.6,860.2 147.6,854.7 148.6,846.2 149.6,830.9 150.6,804.7 151.6,769.8 152.6,741.4 153.6,738.7 154.6,766.5 155.6,806.0 156.6,837.2 157.6,854.7 158.6,862.9 159.6,866.8 160.6,868.7 161.6,869.8 162.6,870.3 164.7,870.6 195.8,870.6 197.8,870.3 198.8,869.9 199.8,869.1 200.8,867.6 201.8,864.9 202.8,859.7 203.9,848.9 204.9,827.3 206.9,755.5 207.9,736.1 208.9,748.1 210.9,818.2 211.9,842.7 212.9,855.7 213.9,862.2 214.9,865.8 215.9,867.9 216.9,869.2 217.9,869.9 218.9,870.3 220.9,870.6 236.0,870.6" fill="none" stroke="#22dd22" stroke-width="1.7" stroke-linejoin="round"/>
<polyline points="73.2,870.8 84.3,870.8 88.3,870.4 90.3,869.8 91.3,869.1 93.3,866.5 94.3,866.2 95.3,867.1 96.3,868.5 97.3,869.6 98.3,870.2 99.3,870.5 101.3,870.7 103.4,870.8 114.4,870.8 116.4,870.7 118.4,870.2 119.4,869.6 120.4,868.5 121.4,866.1 122.4,860.9 124.5,844.6 125.5,843.7 126.5,850.5 127.5,859.4 128.5,865.3 129.5,868.2 130.5,869.4 131.5,870.1 132.5,870.4 133.5,870.7 135.5,870.8 138.5,870.8 140.5,870.5 141.5,870.2 142.5,869.5 143.6,868.4 144.6,866.5 145.6,863.6 146.6,859.5 147.6,853.6 148.6,844.3 149.6,827.7 150.6,799.3 151.6,761.4 152.6,730.7 153.6,727.7 154.6,757.9 155.6,800.7 156.6,834.6 157.6,853.6 158.6,862.5 159.6,866.7 160.6,868.8 161.6,869.9 162.6,870.4 164.7,870.8 194.8,870.8 196.8,870.7 197.8,870.4 198.8,869.9 199.8,869.0 200.8,867.3 201.8,864.2 202.8,858.1 203.9,845.3 204.9,820.8 206.9,749.7 207.9,737.5 208.9,756.3 210.9,825.9 211.9,847.1 212.9,858.0 213.9,863.5 214.9,866.6 215.9,868.5 216.9,869.6 217.9,870.3 218.9,870.6 220.9,870.8 236.0,870.8" fill="none" stroke="#b4b400" stroke-width="1.7" stroke-linejoin="round"/>
<polyline points="73.2,871.0 84.3,871.0 88.3,870.6 90.3,870.0 91.3,869.3 93.3,866.7 94.3,866.4 95.3,867.3 96.3,868.7 97.3,869.8 98.3,870.4 99.3,870.7 101.3,870.9 103.4,871.0 113.4,871.0 116.4,870.9 118.4,870.5 119.4,870.1 120.4,869.3 121.4,867.5 122.4,863.6 124.5,851.4 125.5,850.7 126.5,855.9 127.5,862.5 128.5,866.9 129.5,869.0 130.5,870.0 131.5,870.5 132.5,870.7 134.5,871.0 138.5,871.0 140.5,870.7 141.5,870.3 142.5,869.6 143.6,868.3 144.6,866.2 145.6,863.1 146.6,858.5 147.6,852.0 148.6,841.7 149.6,823.5 150.6,792.1 151.6,750.3 152.6,716.4 153.6,713.1 154.6,746.4 155.6,793.6 156.6,831.0 157.6,852.0 158.6,861.8 159.6,866.4 160.6,868.8 161.6,870.0 162.6,870.6 164.7,871.0 194.8,871.0 196.8,870.8 197.8,870.6 198.8,870.0 199.8,868.9 200.8,867.0 201.8,863.5 202.8,856.3 203.9,841.4 204.9,814.2 205.9,777.2 206.9,746.6 207.9,742.1 208.9,766.4 209.9,802.9 210.9,833.1 211.9,851.0 212.9,860.0 213.9,864.7 214.9,867.4 215.9,869.1 216.9,870.0 217.9,870.6 218.9,870.8 220.9,871.0 236.0,871.0" fill="none" stroke="#ffa500" stroke-width="1.7" stroke-linejoin="round"/>
<polyline points="73.2,871.2 84.3,871.2 88.3,870.8 90.3,870.2 91.3,869.5 93.3,866.9 94.3,866.6 95.3,867.5 96.3,868.9 97.3,870.0 98.3,870.6 99.3,870.9 101.3,871.1 105.4,871.2 115.4,871.2 118.4,871.0 119.4,870.7 120.4,870.3 121.4,869.4 122.4,867.3 124.5,860.9 125.5,860.6 126.5,863.3 127.5,866.7 128.5,869.1 129.5,870.2 130.5,870.7 131.5,870.9 133.5,871.2 137.5,871.2 139.5,871.1 140.5,870.9 141.5,870.5 142.5,869.7 143.6,868.4 144.6,866.2 145.6,862.9 146.6,858.2 147.6,851.4 148.6,840.7 149.6,821.7 150.6,789.0 151.6,745.5 152.6,710.2 153.6,706.8 154.6,741.4 155.6,790.6 156.6,829.5 157.6,851.4 158.6,861.6 159.6,866.4 160.6,868.9 161.6,870.2 162.6,870.8 163.7,871.1 164.7,871.2 194.8,871.2 196.8,871.0 197.8,870.7 198.8,870.0 199.8,868.8 200.8,866.6 201.8,862.6 202.8,854.3 203.9,837.1 204.9,807.5 205.9,771.0 206.9,745.8 207.9,748.8 208.9,777.3 209.9,812.7 210.9,839.4 211.9,854.4 212.9,861.9 213.9,865.8 214.9,868.2 215.9,869.6 216.9,870.4 217.9,870.9 218.9,871.1 220.9,871.2 236.0,871.2" fill="none" stroke="#ff0000" stroke-width="1.7" stroke-linejoin="round"/>
<text x="82.40" y="697.80" font-size="10.8" textLength="25.8" lengthAdjust="spacingAndGlyphs">FabH</text>
<text x="82.40" y="711.20" font-size="10.8" textLength="52.9" lengthAdjust="spacingAndGlyphs">acetyl-CoA</text>
<text x="82.40" y="724.60" font-size="10.8" textLength="61.5" lengthAdjust="spacingAndGlyphs">malonyl-CoA</text>
<text x="82.40" y="738.00" font-size="10.8" textLength="30.4" lengthAdjust="spacingAndGlyphs">pH 8.0</text>
<line x1="80.40" y1="795.70" x2="88.20" y2="795.70" stroke="#ff0000" stroke-width="1.8"/>
<text x="90.00" y="799.10" font-size="9.6">0 min</text>
<line x1="80.40" y1="804.98" x2="88.20" y2="804.98" stroke="#ffa500" stroke-width="1.8"/>
<text x="90.00" y="808.38" font-size="9.6">1 min</text>
<line x1="80.40" y1="814.26" x2="88.20" y2="814.26" stroke="#b4b400" stroke-width="1.8"/>
<text x="90.00" y="817.66" font-size="9.6">2 min</text>
<line x1="80.40" y1="823.54" x2="88.20" y2="823.54" stroke="#22dd22" stroke-width="1.8"/>
<text x="90.00" y="826.94" font-size="9.6">5 min</text>
<line x1="80.40" y1="832.82" x2="88.20" y2="832.82" stroke="#22ffff" stroke-width="1.8"/>
<text x="90.00" y="836.22" font-size="9.6">10 min</text>
<line x1="80.40" y1="842.10" x2="88.20" y2="842.10" stroke="#0000ff" stroke-width="1.8"/>
<text x="90.00" y="845.50" font-size="9.6">30 min</text>
<line x1="80.40" y1="851.38" x2="88.20" y2="851.38" stroke="#7030a0" stroke-width="1.8"/>
<text x="90.00" y="854.78" font-size="9.6">60 min</text>
<line x1="131.70" y1="769.80" x2="131.70" y2="746.60" stroke="#000" stroke-width="1.6"/>
<path d="M129.30,748.60L134.10,748.60L131.70,743.10Z" fill="#000"/>
<line x1="160.70" y1="705.80" x2="160.70" y2="732.60" stroke="#000" stroke-width="1.6"/>
<path d="M158.30,730.60L163.10,730.60L160.70,736.10Z" fill="#000"/>
<path d="M213.4,745.0 C214.5,742.4 216.5,742.3 218.5,744.0 C220.5,745.7 222.5,745.6 223.6,743.2" fill="none" stroke="#000" stroke-width="1.7" stroke-linecap="round"/>
<path d="M213.4,749.1 C214.5,746.5 216.5,746.4 218.5,748.1 C220.5,749.8 222.5,749.7 223.6,747.3" fill="none" stroke="#000" stroke-width="1.7" stroke-linecap="round"/>
<text x="244.60" y="695.80" font-size="22">N</text>
<rect x="292.20" y="688.40" width="178.80" height="179.00" fill="none" stroke="#000" stroke-width="1.7"/>
<line x1="292.20" y1="698.73" x2="295.40" y2="698.73" stroke="#000" stroke-width="1.4"/>
<text x="287.90" y="700.73" font-size="13.4" text-anchor="end">245</text>
<line x1="292.20" y1="743.48" x2="295.40" y2="743.48" stroke="#000" stroke-width="1.4"/>
<text x="287.90" y="745.48" font-size="13.4" text-anchor="end">180</text>
<line x1="292.20" y1="788.23" x2="295.40" y2="788.23" stroke="#000" stroke-width="1.4"/>
<text x="287.90" y="790.23" font-size="13.4" text-anchor="end">115</text>
<line x1="292.20" y1="832.98" x2="295.40" y2="832.98" stroke="#000" stroke-width="1.4"/>
<text x="287.90" y="834.98" font-size="13.4" text-anchor="end">50</text>
<text x="314.55" y="881.60" font-size="13.2" text-anchor="middle">10</text>
<line x1="314.55" y1="867.40" x2="314.55" y2="870.20" stroke="#000" stroke-width="1.3"/>
<text x="358.85" y="881.60" font-size="13.2" text-anchor="middle">30</text>
<line x1="358.85" y1="867.40" x2="358.85" y2="870.20" stroke="#000" stroke-width="1.3"/>
<text x="403.15" y="881.60" font-size="13.2" text-anchor="middle">50</text>
<line x1="403.15" y1="867.40" x2="403.15" y2="870.20" stroke="#000" stroke-width="1.3"/>
<text x="447.45" y="881.60" font-size="13.2" text-anchor="middle">70</text>
<line x1="447.45" y1="867.40" x2="447.45" y2="870.20" stroke="#000" stroke-width="1.3"/>
<text x="380.10" y="893.60" font-size="13.3" text-anchor="middle" textLength="59" lengthAdjust="spacingAndGlyphs">time (min)</text>
<text x="0" y="0" font-size="13.4" text-anchor="middle" textLength="142" lengthAdjust="spacingAndGlyphs" transform="translate(261.70,777.90) rotate(-90)">[substrate/product] (&#956;M)</text>
<polyline points="292.4,718.7 295.7,715.0 299.0,712.0 302.9,709.2 307.4,706.8 312.3,704.7 317.3,703.3 323.4,702.0 330.1,701.1 336.7,700.5 343.9,700.1 352.8,699.8 364.4,699.6 394.3,699.4 471.3,699.4" fill="none" stroke="#ffd000" stroke-width="3.0" stroke-linejoin="round"/>
<polyline points="292.4,853.6 294.1,847.6 296.3,841.0 299.0,834.0 301.8,827.8 305.7,819.9 310.1,811.7 314.5,804.1 319.5,796.2 324.0,789.6 328.9,782.8 333.4,777.2 338.4,771.4 343.3,766.0 348.3,761.0 353.9,755.9 359.4,751.3 364.4,747.4 369.9,743.5 375.5,739.9 381.6,736.3 387.6,733.1 393.7,730.1 400.4,727.2 407.0,724.6 413.7,722.2 420.9,720.0 428.6,717.8 436.4,715.9 444.7,714.1 453.0,712.5 461.8,711.0 471.3,709.7" fill="none" stroke="#08780a" stroke-width="3.0" stroke-linejoin="round"/>
<polyline points="292.4,689.8 295.7,700.3 299.0,710.1 302.4,719.2 306.2,729.1 309.6,737.0 313.4,745.6 317.3,753.5 321.2,760.9 325.1,767.6 329.5,774.8 333.9,781.3 338.4,787.2 342.8,792.6 347.2,797.6 352.2,802.7 357.2,807.2 362.2,811.4 367.7,815.5 373.2,819.2 378.8,822.5 384.9,825.7 391.0,828.6 397.1,831.1 403.7,833.5 410.9,835.8 418.1,837.7 425.9,839.6 433.6,841.1 442.5,842.6 451.3,843.9 460.7,845.0 471.3,846.0" fill="none" stroke="#d60008" stroke-width="3.0" stroke-linejoin="round"/>
<rect x="291.30" y="691.30" width="5.20" height="5.20" fill="#cc0000" stroke="#8a0000" stroke-width="0.5"/>
<rect x="294.00" y="705.20" width="5.20" height="5.20" fill="#cc0000" stroke="#8a0000" stroke-width="0.5"/>
<rect x="300.80" y="718.70" width="5.20" height="5.20" fill="#cc0000" stroke="#8a0000" stroke-width="0.5"/>
<rect x="312.40" y="746.10" width="5.20" height="5.20" fill="#cc0000" stroke="#8a0000" stroke-width="0.5"/>
<rect x="356.20" y="804.40" width="5.20" height="5.20" fill="#cc0000" stroke="#8a0000" stroke-width="0.5"/>
<rect x="423.70" y="839.30" width="5.20" height="5.20" fill="#cc0000" stroke="#8a0000" stroke-width="0.5"/>
<circle cx="292.40" cy="853.80" r="2.7" fill="#2a9a2a" stroke="#1a4a1a" stroke-width="0.7"/>
<circle cx="294.50" cy="843.20" r="2.7" fill="#2a9a2a" stroke="#1a4a1a" stroke-width="0.7"/>
<circle cx="296.60" cy="838.00" r="2.7" fill="#2a9a2a" stroke="#1a4a1a" stroke-width="0.7"/>
<circle cx="303.60" cy="822.50" r="2.7" fill="#2a9a2a" stroke="#1a4a1a" stroke-width="0.7"/>
<circle cx="314.50" cy="806.30" r="2.7" fill="#2a9a2a" stroke="#1a4a1a" stroke-width="0.7"/>
<circle cx="358.80" cy="750.00" r="2.7" fill="#2a9a2a" stroke="#1a4a1a" stroke-width="0.7"/>
<circle cx="426.30" cy="717.20" r="2.7" fill="#2a9a2a" stroke="#1a4a1a" stroke-width="0.7"/>
<path d="M293.40,716.90L295.70,719.20L293.40,721.50L291.10,719.20Z" fill="#000" stroke="#000" stroke-width="0.7"/>
<path d="M296.60,709.10L298.90,711.40L296.60,713.70L294.30,711.40Z" fill="#000" stroke="#000" stroke-width="0.7"/>
<path d="M303.60,710.80L305.90,713.10L303.60,715.40L301.30,713.10Z" fill="#000" stroke="#000" stroke-width="0.7"/>
<path d="M315.00,700.60L317.30,702.90L315.00,705.20L312.70,702.90Z" fill="#000" stroke="#000" stroke-width="0.7"/>
<path d="M358.80,698.50L361.10,700.80L358.80,703.10L356.50,700.80Z" fill="#000" stroke="#000" stroke-width="0.7"/>
<path d="M426.30,696.20L428.60,698.50L426.30,700.80L424.00,698.50Z" fill="#000" stroke="#000" stroke-width="0.7"/>
<text x="338.20" y="710.60" font-size="8.8" textLength="102.8" lengthAdjust="spacingAndGlyphs">acetyl- &amp; acetoacetyl-CoA</text>
<text x="426.80" y="728.30" font-size="8.8" fill="#1f8a1f" textLength="31.6" lengthAdjust="spacingAndGlyphs">CoA-SH</text>
<text x="397.80" y="760.30" font-size="11">FabH</text>
<text x="397.80" y="773.70" font-size="11">acetyl-CoA</text>
<text x="397.80" y="787.10" font-size="11">malonyl-CoA</text>
<text x="397.80" y="800.50" font-size="11">pH 8.0</text>
<text x="415.10" y="858.30" font-size="8.8" fill="#d60008" textLength="50.1" lengthAdjust="spacingAndGlyphs">malonyl-CoA</text>
<text x="473.70" y="695.80" font-size="22">O</text>
<rect x="517.40" y="689.00" width="178.50" height="178.40" fill="none" stroke="#000" stroke-width="1.7"/>
<line x1="517.40" y1="699.29" x2="520.60" y2="699.29" stroke="#000" stroke-width="1.4"/>
<text x="513.10" y="701.29" font-size="13.4" text-anchor="end">245</text>
<line x1="517.40" y1="743.89" x2="520.60" y2="743.89" stroke="#000" stroke-width="1.4"/>
<text x="513.10" y="745.89" font-size="13.4" text-anchor="end">180</text>
<line x1="517.40" y1="788.49" x2="520.60" y2="788.49" stroke="#000" stroke-width="1.4"/>
<text x="513.10" y="790.49" font-size="13.4" text-anchor="end">115</text>
<line x1="517.40" y1="833.09" x2="520.60" y2="833.09" stroke="#000" stroke-width="1.4"/>
<text x="513.10" y="835.09" font-size="13.4" text-anchor="end">50</text>
<text x="524.58" y="881.60" font-size="13.2" text-anchor="middle">60</text>
<line x1="524.58" y1="867.40" x2="524.58" y2="870.20" stroke="#000" stroke-width="1.3"/>
<text x="560.46" y="881.60" font-size="13.2" text-anchor="middle">360</text>
<line x1="560.46" y1="867.40" x2="560.46" y2="870.20" stroke="#000" stroke-width="1.3"/>
<text x="596.34" y="881.60" font-size="13.2" text-anchor="middle">660</text>
<line x1="596.34" y1="867.40" x2="596.34" y2="870.20" stroke="#000" stroke-width="1.3"/>
<text x="632.22" y="881.60" font-size="13.2" text-anchor="middle">960</text>
<line x1="632.22" y1="867.40" x2="632.22" y2="870.20" stroke="#000" stroke-width="1.3"/>
<text x="668.10" y="881.60" font-size="13.2" text-anchor="middle">1260</text>
<line x1="668.10" y1="867.40" x2="668.10" y2="870.20" stroke="#000" stroke-width="1.3"/>
<text x="605.15" y="893.60" font-size="13.3" text-anchor="middle" textLength="59" lengthAdjust="spacingAndGlyphs">time (min)</text>
<text x="0" y="0" font-size="13.4" text-anchor="middle" textLength="142" lengthAdjust="spacingAndGlyphs" transform="translate(486.90,778.20) rotate(-90)">[substrate/product] (&#956;M)</text>
<polyline points="517.4,709.3 522.9,715.3 525.9,718.9 529.4,724.0 534.4,732.0 539.4,740.4 543.4,747.6 551.4,763.7 555.4,771.0 561.4,781.2 570.9,796.3 577.9,808.8 580.4,812.8 585.4,820.1 590.9,827.3 595.4,832.6 597.4,834.7 599.4,836.5 602.4,838.9 606.4,841.6 614.4,846.3 618.9,848.7 622.9,850.7 626.4,852.1 630.4,853.6 635.4,855.1 643.4,857.2 649.9,858.7 656.4,860.1 662.9,861.1 667.9,861.8 673.9,862.4 695.9,863.9" fill="none" stroke="#d60008" stroke-width="3.0" stroke-linejoin="round"/>
<polyline points="517.4,867.4 522.9,867.0 526.9,866.2 531.9,864.8 535.9,863.0 538.9,861.2 542.9,858.5 551.9,851.9 569.9,838.2 572.9,836.1 576.4,833.8 582.4,830.4 588.9,827.1 595.4,824.4 602.4,821.9 616.9,817.8 623.9,816.1 631.4,814.7 640.9,813.5 652.4,812.3 664.4,811.5 674.9,811.2 695.9,811.0" fill="none" stroke="#ffd000" stroke-width="3.0" stroke-linejoin="round"/>
<polyline points="517.4,851.7 534.4,832.7 542.9,822.2 548.4,815.7 551.4,812.4 553.9,809.9 557.4,806.8 561.9,803.2 573.4,794.6 581.4,787.7 584.4,785.3 592.4,779.6 595.9,777.3 599.4,775.3 603.9,773.1 612.4,769.5 622.4,765.1 627.4,763.5 633.4,762.1 647.4,759.7 660.9,758.0 672.9,757.0 695.9,755.7" fill="none" stroke="#08780a" stroke-width="3.0" stroke-linejoin="round"/>
<rect x="514.80" y="706.70" width="5.20" height="5.20" fill="#cc0000" stroke="#8a0000" stroke-width="0.5"/>
<rect x="514.80" y="711.90" width="5.20" height="5.20" fill="#cc0000" stroke="#8a0000" stroke-width="0.5"/>
<rect x="518.40" y="710.20" width="5.20" height="5.20" fill="#cc0000" stroke="#8a0000" stroke-width="0.5"/>
<rect x="521.70" y="714.00" width="5.20" height="5.20" fill="#cc0000" stroke="#8a0000" stroke-width="0.5"/>
<rect x="536.50" y="754.10" width="5.20" height="5.20" fill="#cc0000" stroke="#8a0000" stroke-width="0.5"/>
<rect x="557.60" y="762.10" width="5.20" height="5.20" fill="#cc0000" stroke="#8a0000" stroke-width="0.5"/>
<rect x="579.10" y="807.30" width="5.20" height="5.20" fill="#cc0000" stroke="#8a0000" stroke-width="0.5"/>
<rect x="600.20" y="831.80" width="5.20" height="5.20" fill="#cc0000" stroke="#8a0000" stroke-width="0.5"/>
<rect x="687.10" y="864.60" width="5.20" height="5.20" fill="#cc0000" stroke="#8a0000" stroke-width="0.5"/>
<circle cx="517.40" cy="849.60" r="2.7" fill="#2a9a2a" stroke="#1a4a1a" stroke-width="0.7"/>
<circle cx="517.40" cy="853.80" r="2.7" fill="#2a9a2a" stroke="#1a4a1a" stroke-width="0.7"/>
<circle cx="521.00" cy="849.60" r="2.7" fill="#2a9a2a" stroke="#1a4a1a" stroke-width="0.7"/>
<circle cx="524.30" cy="843.60" r="2.7" fill="#2a9a2a" stroke="#1a4a1a" stroke-width="0.7"/>
<circle cx="539.10" cy="819.60" r="2.7" fill="#2a9a2a" stroke="#1a4a1a" stroke-width="0.7"/>
<circle cx="560.20" cy="810.10" r="2.7" fill="#2a9a2a" stroke="#1a4a1a" stroke-width="0.7"/>
<circle cx="581.70" cy="786.30" r="2.7" fill="#2a9a2a" stroke="#1a4a1a" stroke-width="0.7"/>
<circle cx="602.80" cy="782.50" r="2.7" fill="#2a9a2a" stroke="#1a4a1a" stroke-width="0.7"/>
<circle cx="689.70" cy="752.10" r="2.7" fill="#2a9a2a" stroke="#1a4a1a" stroke-width="0.7"/>
<path d="M517.40,865.10L519.70,867.40L517.40,869.70L515.10,867.40Z" fill="#000" stroke="#000" stroke-width="0.7"/>
<path d="M521.00,865.10L523.30,867.40L521.00,869.70L518.70,867.40Z" fill="#000" stroke="#000" stroke-width="0.7"/>
<path d="M524.30,865.10L526.60,867.40L524.30,869.70L522.00,867.40Z" fill="#000" stroke="#000" stroke-width="0.7"/>
<path d="M539.10,853.20L541.40,855.50L539.10,857.80L536.80,855.50Z" fill="#000" stroke="#000" stroke-width="0.7"/>
<path d="M560.20,844.10L562.50,846.40L560.20,848.70L557.90,846.40Z" fill="#000" stroke="#000" stroke-width="0.7"/>
<path d="M581.70,833.50L584.00,835.80L581.70,838.10L579.40,835.80Z" fill="#000" stroke="#000" stroke-width="0.7"/>
<path d="M602.80,818.80L605.10,821.10L602.80,823.40L600.50,821.10Z" fill="#000" stroke="#000" stroke-width="0.7"/>
<path d="M689.70,810.80L692.00,813.10L689.70,815.40L687.40,813.10Z" fill="#000" stroke="#000" stroke-width="0.7"/>
<text x="539.50" y="702.30" font-size="10.8" textLength="153.3" lengthAdjust="spacingAndGlyphs">FabH, 125 &#956;M <tspan font-weight="bold">1</tspan> + malonyl-CoA</text>
<text x="659.70" y="746.20" font-size="8.8" fill="#1f8a1f" textLength="32.1" lengthAdjust="spacingAndGlyphs">CoA-SH</text>
<text x="627.00" y="806.90" font-size="8.8" textLength="64.8" lengthAdjust="spacingAndGlyphs">acetoacetyl-CoA</text>
<text x="641.10" y="855.50" font-size="8.8" fill="#d60008" textLength="50.0" lengthAdjust="spacingAndGlyphs">malonyl-CoA</text>
<text x="699.00" y="695.80" font-size="22">P</text>
<rect x="742.40" y="688.80" width="178.50" height="178.60" fill="none" stroke="#000" stroke-width="1.7"/>
<line x1="742.40" y1="699.10" x2="745.60" y2="699.10" stroke="#000" stroke-width="1.4"/>
<text x="738.10" y="701.10" font-size="13.4" text-anchor="end">245</text>
<line x1="742.40" y1="743.75" x2="745.60" y2="743.75" stroke="#000" stroke-width="1.4"/>
<text x="738.10" y="745.75" font-size="13.4" text-anchor="end">180</text>
<line x1="742.40" y1="788.40" x2="745.60" y2="788.40" stroke="#000" stroke-width="1.4"/>
<text x="738.10" y="790.40" font-size="13.4" text-anchor="end">115</text>
<line x1="742.40" y1="833.05" x2="745.60" y2="833.05" stroke="#000" stroke-width="1.4"/>
<text x="738.10" y="835.05" font-size="13.4" text-anchor="end">50</text>
<text x="749.58" y="881.60" font-size="13.2" text-anchor="middle">60</text>
<line x1="749.58" y1="867.40" x2="749.58" y2="870.20" stroke="#000" stroke-width="1.3"/>
<text x="785.46" y="881.60" font-size="13.2" text-anchor="middle">360</text>
<line x1="785.46" y1="867.40" x2="785.46" y2="870.20" stroke="#000" stroke-width="1.3"/>
<text x="821.34" y="881.60" font-size="13.2" text-anchor="middle">660</text>
<line x1="821.34" y1="867.40" x2="821.34" y2="870.20" stroke="#000" stroke-width="1.3"/>
<text x="857.22" y="881.60" font-size="13.2" text-anchor="middle">960</text>
<line x1="857.22" y1="867.40" x2="857.22" y2="870.20" stroke="#000" stroke-width="1.3"/>
<text x="893.10" y="881.60" font-size="13.2" text-anchor="middle">1260</text>
<line x1="893.10" y1="867.40" x2="893.10" y2="870.20" stroke="#000" stroke-width="1.3"/>
<text x="830.15" y="893.60" font-size="13.3" text-anchor="middle" textLength="59" lengthAdjust="spacingAndGlyphs">time (min)</text>
<text x="0" y="0" font-size="13.4" text-anchor="middle" textLength="142" lengthAdjust="spacingAndGlyphs" transform="translate(711.90,778.10) rotate(-90)">[substrate/product] (&#956;M)</text>
<polyline points="742.4,690.3 746.9,693.3 749.4,695.2 752.4,697.8 754.9,700.5 757.4,703.6 760.4,707.9 763.9,713.5 766.9,718.7 770.4,725.3 774.9,734.2 778.4,741.6 781.4,748.3 785.4,758.0 804.4,806.1 806.4,810.9 809.4,817.4 813.9,826.2 816.4,830.6 818.9,834.6 821.4,838.2 823.4,840.9 825.4,843.2 827.9,845.8 830.9,848.6 833.9,850.9 836.9,852.9 839.9,854.6 843.4,856.2 847.4,857.7 852.4,859.3 856.4,860.3 861.4,861.2 871.4,862.6 877.4,863.3 884.4,863.9 897.4,864.7 920.9,865.4" fill="none" stroke="#d60008" stroke-width="3.0" stroke-linejoin="round"/>
<polyline points="742.4,867.4 748.4,867.0 750.4,866.5 752.9,865.8 755.9,864.6 758.9,863.2 762.4,861.2 764.9,859.5 769.9,855.5 775.9,850.0 786.4,839.2 797.9,826.8 804.4,820.5 809.9,815.5 816.4,810.3 822.9,805.8 831.9,800.1 834.9,798.5 837.9,797.1 841.4,796.0 845.9,795.2 852.9,794.6 860.4,794.3 870.9,794.3 880.9,794.5 920.9,795.8" fill="none" stroke="#ffd000" stroke-width="3.0" stroke-linejoin="round"/>
<polyline points="742.4,851.7 748.4,847.9 751.4,845.7 754.9,842.6 759.4,838.1 767.4,829.5 776.4,818.8 785.9,808.1 796.4,795.7 800.4,791.4 805.4,786.3 816.4,775.7 821.4,771.2 826.9,766.9 829.9,764.9 832.4,763.4 834.9,762.0 837.9,760.7 841.4,759.4 844.9,758.4 855.4,755.7 860.4,754.8 865.9,753.9 877.4,752.5 889.9,751.5 899.9,751.0 920.9,750.4" fill="none" stroke="#08780a" stroke-width="3.0" stroke-linejoin="round"/>
<rect x="739.80" y="687.70" width="5.20" height="5.20" fill="#cc0000" stroke="#8a0000" stroke-width="0.5"/>
<rect x="743.40" y="688.70" width="5.20" height="5.20" fill="#cc0000" stroke="#8a0000" stroke-width="0.5"/>
<rect x="746.70" y="692.90" width="5.20" height="5.20" fill="#cc0000" stroke="#8a0000" stroke-width="0.5"/>
<rect x="761.90" y="705.60" width="5.20" height="5.20" fill="#cc0000" stroke="#8a0000" stroke-width="0.5"/>
<rect x="783.00" y="763.00" width="5.20" height="5.20" fill="#cc0000" stroke="#8a0000" stroke-width="0.5"/>
<rect x="804.60" y="797.00" width="5.20" height="5.20" fill="#cc0000" stroke="#8a0000" stroke-width="0.5"/>
<rect x="825.60" y="855.40" width="5.20" height="5.20" fill="#cc0000" stroke="#8a0000" stroke-width="0.5"/>
<rect x="911.60" y="864.60" width="5.20" height="5.20" fill="#cc0000" stroke="#8a0000" stroke-width="0.5"/>
<circle cx="742.40" cy="858.00" r="2.7" fill="#2a9a2a" stroke="#1a4a1a" stroke-width="0.7"/>
<circle cx="742.40" cy="854.50" r="2.7" fill="#2a9a2a" stroke="#1a4a1a" stroke-width="0.7"/>
<circle cx="746.00" cy="853.80" r="2.7" fill="#2a9a2a" stroke="#1a4a1a" stroke-width="0.7"/>
<circle cx="749.30" cy="854.50" r="2.7" fill="#2a9a2a" stroke="#1a4a1a" stroke-width="0.7"/>
<circle cx="764.50" cy="841.50" r="2.7" fill="#2a9a2a" stroke="#1a4a1a" stroke-width="0.7"/>
<circle cx="785.60" cy="808.40" r="2.7" fill="#2a9a2a" stroke="#1a4a1a" stroke-width="0.7"/>
<circle cx="807.20" cy="789.00" r="2.7" fill="#2a9a2a" stroke="#1a4a1a" stroke-width="0.7"/>
<circle cx="828.20" cy="762.60" r="2.7" fill="#2a9a2a" stroke="#1a4a1a" stroke-width="0.7"/>
<circle cx="914.20" cy="749.30" r="2.7" fill="#2a9a2a" stroke="#1a4a1a" stroke-width="0.7"/>
<path d="M742.40,865.10L744.70,867.40L742.40,869.70L740.10,867.40Z" fill="#000" stroke="#000" stroke-width="0.7"/>
<path d="M746.00,865.10L748.30,867.40L746.00,869.70L743.70,867.40Z" fill="#000" stroke="#000" stroke-width="0.7"/>
<path d="M749.30,865.10L751.60,867.40L749.30,869.70L747.00,867.40Z" fill="#000" stroke="#000" stroke-width="0.7"/>
<path d="M764.50,862.00L766.80,864.30L764.50,866.60L762.20,864.30Z" fill="#000" stroke="#000" stroke-width="0.7"/>
<path d="M785.60,839.20L787.90,841.50L785.60,843.80L783.30,841.50Z" fill="#000" stroke="#000" stroke-width="0.7"/>
<path d="M807.20,823.00L809.50,825.30L807.20,827.60L804.90,825.30Z" fill="#000" stroke="#000" stroke-width="0.7"/>
<path d="M828.20,795.60L830.50,797.90L828.20,800.20L825.90,797.90Z" fill="#000" stroke="#000" stroke-width="0.7"/>
<path d="M914.20,795.60L916.50,797.90L914.20,800.20L911.90,797.90Z" fill="#000" stroke="#000" stroke-width="0.7"/>
<text x="765.00" y="702.30" font-size="10.8" textLength="153.8" lengthAdjust="spacingAndGlyphs">FabH, 125 &#956;M <tspan font-weight="bold">2</tspan> + malonyl-CoA</text>
<text x="885.00" y="745.80" font-size="8.8" fill="#1f8a1f" textLength="32.1" lengthAdjust="spacingAndGlyphs">CoA-SH</text>
<text x="851.70" y="806.90" font-size="8.8" textLength="65.4" lengthAdjust="spacingAndGlyphs">acetoacetyl-CoA</text>
<text x="865.70" y="855.50" font-size="8.8" fill="#d60008" textLength="50.6" lengthAdjust="spacingAndGlyphs">malonyl-CoA</text>
</svg>
</body></html>
